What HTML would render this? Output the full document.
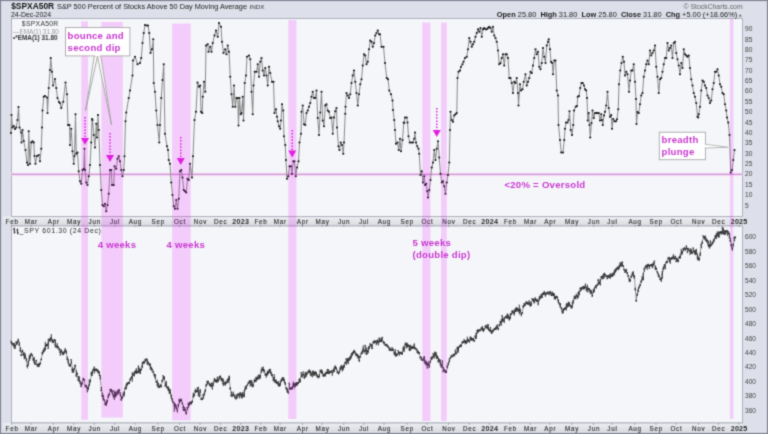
<!DOCTYPE html>
<html><head><meta charset="utf-8"><title>$SPXA50R</title><style>html,body{margin:0;padding:0;background:#dde0ea;overflow:hidden}svg{display:block}</style></head><body>
<svg width="768" height="434" viewBox="0 0 768 434">
<defs><linearGradient id="ax" x1="0" y1="0" x2="0" y2="1"><stop offset="0" stop-color="#eceef2"/><stop offset="1" stop-color="#d9dbe1"/></linearGradient><filter id="bl" x="0" y="0" width="1" height="1" color-interpolation-filters="sRGB"><feConvolveMatrix order="3" kernelMatrix="0.02768 0.11101 0.02768 0.11101 0.44521 0.11101 0.02768 0.11101 0.02768" edgeMode="duplicate" preserveAlpha="false"/></filter></defs><g filter="url(#bl)">
<rect x="0" y="0" width="768" height="434" fill="#dde0ea"/>
<rect x="11.5" y="18.5" width="731.0" height="198.0" fill="#f5f6fa" stroke="#aeb1bd" stroke-width="1"/>
<rect x="3" y="216.5" width="739.5" height="9.5" fill="url(#ax)"/>
<line x1="11.5" y1="216.5" x2="742.5" y2="216.5" stroke="#aeb1bd" stroke-width="1"/>
<line x1="11.5" y1="226" x2="742.5" y2="226" stroke="#aeb1bd" stroke-width="1"/>
<rect x="11.5" y="226" width="731.0" height="197" fill="#f5f6fa" stroke="#aeb1bd" stroke-width="1"/>
<rect x="3" y="423" width="739.5" height="9" fill="url(#ax)" stroke="none"/>
<line x1="11.5" y1="423" x2="742.5" y2="423" stroke="#aeb1bd" stroke-width="1"/>
<rect x="0.55" y="0.55" width="766.9" height="432.9" fill="none" stroke="#838795" stroke-width="1.1"/>
<text x="11.2" y="9.2" font-family="'Liberation Sans', 'DejaVu Sans', sans-serif" font-size="8.8" font-weight="bold" fill="#111" textLength="43" lengthAdjust="spacingAndGlyphs">$SPXA50R</text>
<text x="57" y="9.2" font-family="'Liberation Sans', 'DejaVu Sans', sans-serif" font-size="7.6" fill="#1a1a1a" textLength="190" lengthAdjust="spacingAndGlyphs">S&amp;P 500 Percent of Stocks Above 50 Day Moving Average</text>
<text x="249.5" y="9" font-family="'Liberation Sans', 'DejaVu Sans', sans-serif" font-size="6" fill="#333" textLength="15" lengthAdjust="spacingAndGlyphs">INDX</text>
<text x="11" y="16.6" font-family="'Liberation Sans', 'DejaVu Sans', sans-serif" font-size="7" fill="#1a1a1a" textLength="40" lengthAdjust="spacingAndGlyphs">24-Dec-2024</text>
<text x="683.6" y="8.8" font-family="'Liberation Sans', 'DejaVu Sans', sans-serif" font-size="7" fill="#666" textLength="59" lengthAdjust="spacingAndGlyphs">&#169; StockCharts.com</text>
<text x="737.2" y="16.6" font-family="'Liberation Sans', 'DejaVu Sans', sans-serif" font-size="7.4" fill="#1a1a1a" text-anchor="end" xml:space="preserve"><tspan font-weight="bold">Open</tspan> 25.80  <tspan font-weight="bold">High</tspan> 31.80  <tspan font-weight="bold">Low</tspan> 25.80  <tspan font-weight="bold">Close</tspan> 31.80  <tspan font-weight="bold">Chg</tspan> +5.00 (+18.66%)</text>
<path d="M738.5,16.4L741.9,16.4L740.2,14.3Z" fill="#666"/>
<text x="745" y="207.5" font-family="'Liberation Sans', 'DejaVu Sans', sans-serif" font-size="6.6" fill="#444">5</text>
<text x="745" y="197.2" font-family="'Liberation Sans', 'DejaVu Sans', sans-serif" font-size="6.6" fill="#444">10</text>
<text x="745" y="186.8" font-family="'Liberation Sans', 'DejaVu Sans', sans-serif" font-size="6.6" fill="#444">15</text>
<text x="745" y="176.4" font-family="'Liberation Sans', 'DejaVu Sans', sans-serif" font-size="6.6" fill="#444">20</text>
<text x="745" y="166.0" font-family="'Liberation Sans', 'DejaVu Sans', sans-serif" font-size="6.6" fill="#444">25</text>
<text x="745" y="155.7" font-family="'Liberation Sans', 'DejaVu Sans', sans-serif" font-size="6.6" fill="#444">30</text>
<text x="745" y="145.3" font-family="'Liberation Sans', 'DejaVu Sans', sans-serif" font-size="6.6" fill="#444">35</text>
<text x="745" y="134.9" font-family="'Liberation Sans', 'DejaVu Sans', sans-serif" font-size="6.6" fill="#444">40</text>
<text x="745" y="124.5" font-family="'Liberation Sans', 'DejaVu Sans', sans-serif" font-size="6.6" fill="#444">45</text>
<text x="745" y="114.1" font-family="'Liberation Sans', 'DejaVu Sans', sans-serif" font-size="6.6" fill="#444">50</text>
<text x="745" y="103.8" font-family="'Liberation Sans', 'DejaVu Sans', sans-serif" font-size="6.6" fill="#444">55</text>
<text x="745" y="93.4" font-family="'Liberation Sans', 'DejaVu Sans', sans-serif" font-size="6.6" fill="#444">60</text>
<text x="745" y="83.0" font-family="'Liberation Sans', 'DejaVu Sans', sans-serif" font-size="6.6" fill="#444">65</text>
<text x="745" y="72.7" font-family="'Liberation Sans', 'DejaVu Sans', sans-serif" font-size="6.6" fill="#444">70</text>
<text x="745" y="62.3" font-family="'Liberation Sans', 'DejaVu Sans', sans-serif" font-size="6.6" fill="#444">75</text>
<text x="745" y="51.9" font-family="'Liberation Sans', 'DejaVu Sans', sans-serif" font-size="6.6" fill="#444">80</text>
<text x="745" y="41.5" font-family="'Liberation Sans', 'DejaVu Sans', sans-serif" font-size="6.6" fill="#444">85</text>
<text x="745" y="31.1" font-family="'Liberation Sans', 'DejaVu Sans', sans-serif" font-size="6.6" fill="#444">90</text>
<text x="745" y="412.7" font-family="'Liberation Sans', 'DejaVu Sans', sans-serif" font-size="6.6" fill="#444">360</text>
<text x="745" y="398.2" font-family="'Liberation Sans', 'DejaVu Sans', sans-serif" font-size="6.6" fill="#444">380</text>
<text x="745" y="383.8" font-family="'Liberation Sans', 'DejaVu Sans', sans-serif" font-size="6.6" fill="#444">400</text>
<text x="745" y="369.4" font-family="'Liberation Sans', 'DejaVu Sans', sans-serif" font-size="6.6" fill="#444">420</text>
<text x="745" y="354.9" font-family="'Liberation Sans', 'DejaVu Sans', sans-serif" font-size="6.6" fill="#444">440</text>
<text x="745" y="340.5" font-family="'Liberation Sans', 'DejaVu Sans', sans-serif" font-size="6.6" fill="#444">460</text>
<text x="745" y="326.0" font-family="'Liberation Sans', 'DejaVu Sans', sans-serif" font-size="6.6" fill="#444">480</text>
<text x="745" y="311.6" font-family="'Liberation Sans', 'DejaVu Sans', sans-serif" font-size="6.6" fill="#444">500</text>
<text x="745" y="297.2" font-family="'Liberation Sans', 'DejaVu Sans', sans-serif" font-size="6.6" fill="#444">520</text>
<text x="745" y="282.7" font-family="'Liberation Sans', 'DejaVu Sans', sans-serif" font-size="6.6" fill="#444">540</text>
<text x="745" y="268.3" font-family="'Liberation Sans', 'DejaVu Sans', sans-serif" font-size="6.6" fill="#444">560</text>
<text x="745" y="253.8" font-family="'Liberation Sans', 'DejaVu Sans', sans-serif" font-size="6.6" fill="#444">580</text>
<text x="745" y="239.4" font-family="'Liberation Sans', 'DejaVu Sans', sans-serif" font-size="6.6" fill="#444">600</text>
<text x="12.12" y="224.2" font-family="'Liberation Sans', 'DejaVu Sans', sans-serif" font-size="6.3" letter-spacing="0.75" fill="#2a2a2a" stroke="#333" stroke-width="0.12" text-anchor="middle">Feb</text>
<line x1="11.75" y1="224.9" x2="11.75" y2="226.8" stroke="#888" stroke-width="0.7"/>
<text x="31.38" y="224.2" font-family="'Liberation Sans', 'DejaVu Sans', sans-serif" font-size="6.3" letter-spacing="0.75" fill="#2a2a2a" stroke="#333" stroke-width="0.12" text-anchor="middle">Mar</text>
<line x1="31" y1="224.9" x2="31" y2="226.8" stroke="#888" stroke-width="0.7"/>
<text x="53.77" y="224.2" font-family="'Liberation Sans', 'DejaVu Sans', sans-serif" font-size="6.3" letter-spacing="0.75" fill="#2a2a2a" stroke="#333" stroke-width="0.12" text-anchor="middle">Apr</text>
<line x1="53.4" y1="224.9" x2="53.4" y2="226.8" stroke="#888" stroke-width="0.7"/>
<text x="74.12" y="224.2" font-family="'Liberation Sans', 'DejaVu Sans', sans-serif" font-size="6.3" letter-spacing="0.75" fill="#2a2a2a" stroke="#333" stroke-width="0.12" text-anchor="middle">May</text>
<line x1="73.75" y1="224.9" x2="73.75" y2="226.8" stroke="#888" stroke-width="0.7"/>
<text x="94.78" y="224.2" font-family="'Liberation Sans', 'DejaVu Sans', sans-serif" font-size="6.3" letter-spacing="0.75" fill="#2a2a2a" stroke="#333" stroke-width="0.12" text-anchor="middle">Jun</text>
<line x1="94.4" y1="224.9" x2="94.4" y2="226.8" stroke="#888" stroke-width="0.7"/>
<text x="115.12" y="224.2" font-family="'Liberation Sans', 'DejaVu Sans', sans-serif" font-size="6.3" letter-spacing="0.75" fill="#2a2a2a" stroke="#333" stroke-width="0.12" text-anchor="middle">Jul</text>
<line x1="114.75" y1="224.9" x2="114.75" y2="226.8" stroke="#888" stroke-width="0.7"/>
<text x="135.38" y="224.2" font-family="'Liberation Sans', 'DejaVu Sans', sans-serif" font-size="6.3" letter-spacing="0.75" fill="#2a2a2a" stroke="#333" stroke-width="0.12" text-anchor="middle">Aug</text>
<line x1="135" y1="224.9" x2="135" y2="226.8" stroke="#888" stroke-width="0.7"/>
<text x="158.28" y="224.2" font-family="'Liberation Sans', 'DejaVu Sans', sans-serif" font-size="6.3" letter-spacing="0.75" fill="#2a2a2a" stroke="#333" stroke-width="0.12" text-anchor="middle">Sep</text>
<line x1="157.9" y1="224.9" x2="157.9" y2="226.8" stroke="#888" stroke-width="0.7"/>
<text x="179.97" y="224.2" font-family="'Liberation Sans', 'DejaVu Sans', sans-serif" font-size="6.3" letter-spacing="0.75" fill="#2a2a2a" stroke="#333" stroke-width="0.12" text-anchor="middle">Oct</text>
<line x1="179.6" y1="224.9" x2="179.6" y2="226.8" stroke="#888" stroke-width="0.7"/>
<text x="200.38" y="224.2" font-family="'Liberation Sans', 'DejaVu Sans', sans-serif" font-size="6.3" letter-spacing="0.75" fill="#2a2a2a" stroke="#333" stroke-width="0.12" text-anchor="middle">Nov</text>
<line x1="200" y1="224.9" x2="200" y2="226.8" stroke="#888" stroke-width="0.7"/>
<text x="220.78" y="224.2" font-family="'Liberation Sans', 'DejaVu Sans', sans-serif" font-size="6.3" letter-spacing="0.75" fill="#2a2a2a" stroke="#333" stroke-width="0.12" text-anchor="middle">Dec</text>
<line x1="220.4" y1="224.9" x2="220.4" y2="226.8" stroke="#888" stroke-width="0.7"/>
<text x="240.70" y="224.2" font-family="'Liberation Sans', 'DejaVu Sans', sans-serif" font-size="7.2" font-weight="bold" letter-spacing="0.2" fill="#2a2a2a" text-anchor="middle">2023</text>
<line x1="240.6" y1="224.9" x2="240.6" y2="226.8" stroke="#888" stroke-width="0.7"/>
<text x="260.98" y="224.2" font-family="'Liberation Sans', 'DejaVu Sans', sans-serif" font-size="6.3" letter-spacing="0.75" fill="#2a2a2a" stroke="#333" stroke-width="0.12" text-anchor="middle">Feb</text>
<line x1="260.6" y1="224.9" x2="260.6" y2="226.8" stroke="#888" stroke-width="0.7"/>
<text x="280.38" y="224.2" font-family="'Liberation Sans', 'DejaVu Sans', sans-serif" font-size="6.3" letter-spacing="0.75" fill="#2a2a2a" stroke="#333" stroke-width="0.12" text-anchor="middle">Mar</text>
<line x1="280" y1="224.9" x2="280" y2="226.8" stroke="#888" stroke-width="0.7"/>
<text x="302.88" y="224.2" font-family="'Liberation Sans', 'DejaVu Sans', sans-serif" font-size="6.3" letter-spacing="0.75" fill="#2a2a2a" stroke="#333" stroke-width="0.12" text-anchor="middle">Apr</text>
<line x1="302.5" y1="224.9" x2="302.5" y2="226.8" stroke="#888" stroke-width="0.7"/>
<text x="322.48" y="224.2" font-family="'Liberation Sans', 'DejaVu Sans', sans-serif" font-size="6.3" letter-spacing="0.75" fill="#2a2a2a" stroke="#333" stroke-width="0.12" text-anchor="middle">May</text>
<line x1="322.1" y1="224.9" x2="322.1" y2="226.8" stroke="#888" stroke-width="0.7"/>
<text x="344.12" y="224.2" font-family="'Liberation Sans', 'DejaVu Sans', sans-serif" font-size="6.3" letter-spacing="0.75" fill="#2a2a2a" stroke="#333" stroke-width="0.12" text-anchor="middle">Jun</text>
<line x1="343.75" y1="224.9" x2="343.75" y2="226.8" stroke="#888" stroke-width="0.7"/>
<text x="364.12" y="224.2" font-family="'Liberation Sans', 'DejaVu Sans', sans-serif" font-size="6.3" letter-spacing="0.75" fill="#2a2a2a" stroke="#333" stroke-width="0.12" text-anchor="middle">Jul</text>
<line x1="363.75" y1="224.9" x2="363.75" y2="226.8" stroke="#888" stroke-width="0.7"/>
<text x="384.38" y="224.2" font-family="'Liberation Sans', 'DejaVu Sans', sans-serif" font-size="6.3" letter-spacing="0.75" fill="#2a2a2a" stroke="#333" stroke-width="0.12" text-anchor="middle">Aug</text>
<line x1="384" y1="224.9" x2="384" y2="226.8" stroke="#888" stroke-width="0.7"/>
<text x="407.27" y="224.2" font-family="'Liberation Sans', 'DejaVu Sans', sans-serif" font-size="6.3" letter-spacing="0.75" fill="#2a2a2a" stroke="#333" stroke-width="0.12" text-anchor="middle">Sep</text>
<line x1="406.9" y1="224.9" x2="406.9" y2="226.8" stroke="#888" stroke-width="0.7"/>
<text x="427.48" y="224.2" font-family="'Liberation Sans', 'DejaVu Sans', sans-serif" font-size="6.3" letter-spacing="0.75" fill="#2a2a2a" stroke="#333" stroke-width="0.12" text-anchor="middle">Oct</text>
<line x1="427.1" y1="224.9" x2="427.1" y2="226.8" stroke="#888" stroke-width="0.7"/>
<text x="448.98" y="224.2" font-family="'Liberation Sans', 'DejaVu Sans', sans-serif" font-size="6.3" letter-spacing="0.75" fill="#2a2a2a" stroke="#333" stroke-width="0.12" text-anchor="middle">Nov</text>
<line x1="448.6" y1="224.9" x2="448.6" y2="226.8" stroke="#888" stroke-width="0.7"/>
<text x="469.77" y="224.2" font-family="'Liberation Sans', 'DejaVu Sans', sans-serif" font-size="6.3" letter-spacing="0.75" fill="#2a2a2a" stroke="#333" stroke-width="0.12" text-anchor="middle">Dec</text>
<line x1="469.4" y1="224.9" x2="469.4" y2="226.8" stroke="#888" stroke-width="0.7"/>
<text x="489.70" y="224.2" font-family="'Liberation Sans', 'DejaVu Sans', sans-serif" font-size="7.2" font-weight="bold" letter-spacing="0.2" fill="#2a2a2a" text-anchor="middle">2024</text>
<line x1="489.6" y1="224.9" x2="489.6" y2="226.8" stroke="#888" stroke-width="0.7"/>
<text x="510.48" y="224.2" font-family="'Liberation Sans', 'DejaVu Sans', sans-serif" font-size="6.3" letter-spacing="0.75" fill="#2a2a2a" stroke="#333" stroke-width="0.12" text-anchor="middle">Feb</text>
<line x1="510.1" y1="224.9" x2="510.1" y2="226.8" stroke="#888" stroke-width="0.7"/>
<text x="530.62" y="224.2" font-family="'Liberation Sans', 'DejaVu Sans', sans-serif" font-size="6.3" letter-spacing="0.75" fill="#2a2a2a" stroke="#333" stroke-width="0.12" text-anchor="middle">Mar</text>
<line x1="530.25" y1="224.9" x2="530.25" y2="226.8" stroke="#888" stroke-width="0.7"/>
<text x="550.27" y="224.2" font-family="'Liberation Sans', 'DejaVu Sans', sans-serif" font-size="6.3" letter-spacing="0.75" fill="#2a2a2a" stroke="#333" stroke-width="0.12" text-anchor="middle">Apr</text>
<line x1="549.9" y1="224.9" x2="549.9" y2="226.8" stroke="#888" stroke-width="0.7"/>
<text x="572.12" y="224.2" font-family="'Liberation Sans', 'DejaVu Sans', sans-serif" font-size="6.3" letter-spacing="0.75" fill="#2a2a2a" stroke="#333" stroke-width="0.12" text-anchor="middle">May</text>
<line x1="571.75" y1="224.9" x2="571.75" y2="226.8" stroke="#888" stroke-width="0.7"/>
<text x="593.98" y="224.2" font-family="'Liberation Sans', 'DejaVu Sans', sans-serif" font-size="6.3" letter-spacing="0.75" fill="#2a2a2a" stroke="#333" stroke-width="0.12" text-anchor="middle">Jun</text>
<line x1="593.6" y1="224.9" x2="593.6" y2="226.8" stroke="#888" stroke-width="0.7"/>
<text x="612.48" y="224.2" font-family="'Liberation Sans', 'DejaVu Sans', sans-serif" font-size="6.3" letter-spacing="0.75" fill="#2a2a2a" stroke="#333" stroke-width="0.12" text-anchor="middle">Jul</text>
<line x1="612.1" y1="224.9" x2="612.1" y2="226.8" stroke="#888" stroke-width="0.7"/>
<text x="635.12" y="224.2" font-family="'Liberation Sans', 'DejaVu Sans', sans-serif" font-size="6.3" letter-spacing="0.75" fill="#2a2a2a" stroke="#333" stroke-width="0.12" text-anchor="middle">Aug</text>
<line x1="634.75" y1="224.9" x2="634.75" y2="226.8" stroke="#888" stroke-width="0.7"/>
<text x="656.27" y="224.2" font-family="'Liberation Sans', 'DejaVu Sans', sans-serif" font-size="6.3" letter-spacing="0.75" fill="#2a2a2a" stroke="#333" stroke-width="0.12" text-anchor="middle">Sep</text>
<line x1="655.9" y1="224.9" x2="655.9" y2="226.8" stroke="#888" stroke-width="0.7"/>
<text x="676.48" y="224.2" font-family="'Liberation Sans', 'DejaVu Sans', sans-serif" font-size="6.3" letter-spacing="0.75" fill="#2a2a2a" stroke="#333" stroke-width="0.12" text-anchor="middle">Oct</text>
<line x1="676.1" y1="224.9" x2="676.1" y2="226.8" stroke="#888" stroke-width="0.7"/>
<text x="698.77" y="224.2" font-family="'Liberation Sans', 'DejaVu Sans', sans-serif" font-size="6.3" letter-spacing="0.75" fill="#2a2a2a" stroke="#333" stroke-width="0.12" text-anchor="middle">Nov</text>
<line x1="698.4" y1="224.9" x2="698.4" y2="226.8" stroke="#888" stroke-width="0.7"/>
<text x="718.77" y="224.2" font-family="'Liberation Sans', 'DejaVu Sans', sans-serif" font-size="6.3" letter-spacing="0.75" fill="#2a2a2a" stroke="#333" stroke-width="0.12" text-anchor="middle">Dec</text>
<line x1="718.4" y1="224.9" x2="718.4" y2="226.8" stroke="#888" stroke-width="0.7"/>
<text x="739.10" y="224.2" font-family="'Liberation Sans', 'DejaVu Sans', sans-serif" font-size="7.2" font-weight="bold" letter-spacing="0.2" fill="#2a2a2a" text-anchor="middle">2025</text>
<line x1="739" y1="224.9" x2="739" y2="226.8" stroke="#888" stroke-width="0.7"/>
<text x="12.12" y="431.0" font-family="'Liberation Sans', 'DejaVu Sans', sans-serif" font-size="6.3" letter-spacing="0.75" fill="#2a2a2a" stroke="#333" stroke-width="0.12" text-anchor="middle">Feb</text>
<line x1="11.75" y1="423" x2="11.75" y2="424.8" stroke="#888" stroke-width="0.7"/>
<text x="31.38" y="431.0" font-family="'Liberation Sans', 'DejaVu Sans', sans-serif" font-size="6.3" letter-spacing="0.75" fill="#2a2a2a" stroke="#333" stroke-width="0.12" text-anchor="middle">Mar</text>
<line x1="31" y1="423" x2="31" y2="424.8" stroke="#888" stroke-width="0.7"/>
<text x="53.77" y="431.0" font-family="'Liberation Sans', 'DejaVu Sans', sans-serif" font-size="6.3" letter-spacing="0.75" fill="#2a2a2a" stroke="#333" stroke-width="0.12" text-anchor="middle">Apr</text>
<line x1="53.4" y1="423" x2="53.4" y2="424.8" stroke="#888" stroke-width="0.7"/>
<text x="74.12" y="431.0" font-family="'Liberation Sans', 'DejaVu Sans', sans-serif" font-size="6.3" letter-spacing="0.75" fill="#2a2a2a" stroke="#333" stroke-width="0.12" text-anchor="middle">May</text>
<line x1="73.75" y1="423" x2="73.75" y2="424.8" stroke="#888" stroke-width="0.7"/>
<text x="94.78" y="431.0" font-family="'Liberation Sans', 'DejaVu Sans', sans-serif" font-size="6.3" letter-spacing="0.75" fill="#2a2a2a" stroke="#333" stroke-width="0.12" text-anchor="middle">Jun</text>
<line x1="94.4" y1="423" x2="94.4" y2="424.8" stroke="#888" stroke-width="0.7"/>
<text x="115.12" y="431.0" font-family="'Liberation Sans', 'DejaVu Sans', sans-serif" font-size="6.3" letter-spacing="0.75" fill="#2a2a2a" stroke="#333" stroke-width="0.12" text-anchor="middle">Jul</text>
<line x1="114.75" y1="423" x2="114.75" y2="424.8" stroke="#888" stroke-width="0.7"/>
<text x="135.38" y="431.0" font-family="'Liberation Sans', 'DejaVu Sans', sans-serif" font-size="6.3" letter-spacing="0.75" fill="#2a2a2a" stroke="#333" stroke-width="0.12" text-anchor="middle">Aug</text>
<line x1="135" y1="423" x2="135" y2="424.8" stroke="#888" stroke-width="0.7"/>
<text x="158.28" y="431.0" font-family="'Liberation Sans', 'DejaVu Sans', sans-serif" font-size="6.3" letter-spacing="0.75" fill="#2a2a2a" stroke="#333" stroke-width="0.12" text-anchor="middle">Sep</text>
<line x1="157.9" y1="423" x2="157.9" y2="424.8" stroke="#888" stroke-width="0.7"/>
<text x="179.97" y="431.0" font-family="'Liberation Sans', 'DejaVu Sans', sans-serif" font-size="6.3" letter-spacing="0.75" fill="#2a2a2a" stroke="#333" stroke-width="0.12" text-anchor="middle">Oct</text>
<line x1="179.6" y1="423" x2="179.6" y2="424.8" stroke="#888" stroke-width="0.7"/>
<text x="200.38" y="431.0" font-family="'Liberation Sans', 'DejaVu Sans', sans-serif" font-size="6.3" letter-spacing="0.75" fill="#2a2a2a" stroke="#333" stroke-width="0.12" text-anchor="middle">Nov</text>
<line x1="200" y1="423" x2="200" y2="424.8" stroke="#888" stroke-width="0.7"/>
<text x="220.78" y="431.0" font-family="'Liberation Sans', 'DejaVu Sans', sans-serif" font-size="6.3" letter-spacing="0.75" fill="#2a2a2a" stroke="#333" stroke-width="0.12" text-anchor="middle">Dec</text>
<line x1="220.4" y1="423" x2="220.4" y2="424.8" stroke="#888" stroke-width="0.7"/>
<text x="240.70" y="431.0" font-family="'Liberation Sans', 'DejaVu Sans', sans-serif" font-size="7.2" font-weight="bold" letter-spacing="0.2" fill="#2a2a2a" text-anchor="middle">2023</text>
<line x1="240.6" y1="423" x2="240.6" y2="424.8" stroke="#888" stroke-width="0.7"/>
<text x="260.98" y="431.0" font-family="'Liberation Sans', 'DejaVu Sans', sans-serif" font-size="6.3" letter-spacing="0.75" fill="#2a2a2a" stroke="#333" stroke-width="0.12" text-anchor="middle">Feb</text>
<line x1="260.6" y1="423" x2="260.6" y2="424.8" stroke="#888" stroke-width="0.7"/>
<text x="280.38" y="431.0" font-family="'Liberation Sans', 'DejaVu Sans', sans-serif" font-size="6.3" letter-spacing="0.75" fill="#2a2a2a" stroke="#333" stroke-width="0.12" text-anchor="middle">Mar</text>
<line x1="280" y1="423" x2="280" y2="424.8" stroke="#888" stroke-width="0.7"/>
<text x="302.88" y="431.0" font-family="'Liberation Sans', 'DejaVu Sans', sans-serif" font-size="6.3" letter-spacing="0.75" fill="#2a2a2a" stroke="#333" stroke-width="0.12" text-anchor="middle">Apr</text>
<line x1="302.5" y1="423" x2="302.5" y2="424.8" stroke="#888" stroke-width="0.7"/>
<text x="322.48" y="431.0" font-family="'Liberation Sans', 'DejaVu Sans', sans-serif" font-size="6.3" letter-spacing="0.75" fill="#2a2a2a" stroke="#333" stroke-width="0.12" text-anchor="middle">May</text>
<line x1="322.1" y1="423" x2="322.1" y2="424.8" stroke="#888" stroke-width="0.7"/>
<text x="344.12" y="431.0" font-family="'Liberation Sans', 'DejaVu Sans', sans-serif" font-size="6.3" letter-spacing="0.75" fill="#2a2a2a" stroke="#333" stroke-width="0.12" text-anchor="middle">Jun</text>
<line x1="343.75" y1="423" x2="343.75" y2="424.8" stroke="#888" stroke-width="0.7"/>
<text x="364.12" y="431.0" font-family="'Liberation Sans', 'DejaVu Sans', sans-serif" font-size="6.3" letter-spacing="0.75" fill="#2a2a2a" stroke="#333" stroke-width="0.12" text-anchor="middle">Jul</text>
<line x1="363.75" y1="423" x2="363.75" y2="424.8" stroke="#888" stroke-width="0.7"/>
<text x="384.38" y="431.0" font-family="'Liberation Sans', 'DejaVu Sans', sans-serif" font-size="6.3" letter-spacing="0.75" fill="#2a2a2a" stroke="#333" stroke-width="0.12" text-anchor="middle">Aug</text>
<line x1="384" y1="423" x2="384" y2="424.8" stroke="#888" stroke-width="0.7"/>
<text x="407.27" y="431.0" font-family="'Liberation Sans', 'DejaVu Sans', sans-serif" font-size="6.3" letter-spacing="0.75" fill="#2a2a2a" stroke="#333" stroke-width="0.12" text-anchor="middle">Sep</text>
<line x1="406.9" y1="423" x2="406.9" y2="424.8" stroke="#888" stroke-width="0.7"/>
<text x="427.48" y="431.0" font-family="'Liberation Sans', 'DejaVu Sans', sans-serif" font-size="6.3" letter-spacing="0.75" fill="#2a2a2a" stroke="#333" stroke-width="0.12" text-anchor="middle">Oct</text>
<line x1="427.1" y1="423" x2="427.1" y2="424.8" stroke="#888" stroke-width="0.7"/>
<text x="448.98" y="431.0" font-family="'Liberation Sans', 'DejaVu Sans', sans-serif" font-size="6.3" letter-spacing="0.75" fill="#2a2a2a" stroke="#333" stroke-width="0.12" text-anchor="middle">Nov</text>
<line x1="448.6" y1="423" x2="448.6" y2="424.8" stroke="#888" stroke-width="0.7"/>
<text x="469.77" y="431.0" font-family="'Liberation Sans', 'DejaVu Sans', sans-serif" font-size="6.3" letter-spacing="0.75" fill="#2a2a2a" stroke="#333" stroke-width="0.12" text-anchor="middle">Dec</text>
<line x1="469.4" y1="423" x2="469.4" y2="424.8" stroke="#888" stroke-width="0.7"/>
<text x="489.70" y="431.0" font-family="'Liberation Sans', 'DejaVu Sans', sans-serif" font-size="7.2" font-weight="bold" letter-spacing="0.2" fill="#2a2a2a" text-anchor="middle">2024</text>
<line x1="489.6" y1="423" x2="489.6" y2="424.8" stroke="#888" stroke-width="0.7"/>
<text x="510.48" y="431.0" font-family="'Liberation Sans', 'DejaVu Sans', sans-serif" font-size="6.3" letter-spacing="0.75" fill="#2a2a2a" stroke="#333" stroke-width="0.12" text-anchor="middle">Feb</text>
<line x1="510.1" y1="423" x2="510.1" y2="424.8" stroke="#888" stroke-width="0.7"/>
<text x="530.62" y="431.0" font-family="'Liberation Sans', 'DejaVu Sans', sans-serif" font-size="6.3" letter-spacing="0.75" fill="#2a2a2a" stroke="#333" stroke-width="0.12" text-anchor="middle">Mar</text>
<line x1="530.25" y1="423" x2="530.25" y2="424.8" stroke="#888" stroke-width="0.7"/>
<text x="550.27" y="431.0" font-family="'Liberation Sans', 'DejaVu Sans', sans-serif" font-size="6.3" letter-spacing="0.75" fill="#2a2a2a" stroke="#333" stroke-width="0.12" text-anchor="middle">Apr</text>
<line x1="549.9" y1="423" x2="549.9" y2="424.8" stroke="#888" stroke-width="0.7"/>
<text x="572.12" y="431.0" font-family="'Liberation Sans', 'DejaVu Sans', sans-serif" font-size="6.3" letter-spacing="0.75" fill="#2a2a2a" stroke="#333" stroke-width="0.12" text-anchor="middle">May</text>
<line x1="571.75" y1="423" x2="571.75" y2="424.8" stroke="#888" stroke-width="0.7"/>
<text x="593.98" y="431.0" font-family="'Liberation Sans', 'DejaVu Sans', sans-serif" font-size="6.3" letter-spacing="0.75" fill="#2a2a2a" stroke="#333" stroke-width="0.12" text-anchor="middle">Jun</text>
<line x1="593.6" y1="423" x2="593.6" y2="424.8" stroke="#888" stroke-width="0.7"/>
<text x="612.48" y="431.0" font-family="'Liberation Sans', 'DejaVu Sans', sans-serif" font-size="6.3" letter-spacing="0.75" fill="#2a2a2a" stroke="#333" stroke-width="0.12" text-anchor="middle">Jul</text>
<line x1="612.1" y1="423" x2="612.1" y2="424.8" stroke="#888" stroke-width="0.7"/>
<text x="635.12" y="431.0" font-family="'Liberation Sans', 'DejaVu Sans', sans-serif" font-size="6.3" letter-spacing="0.75" fill="#2a2a2a" stroke="#333" stroke-width="0.12" text-anchor="middle">Aug</text>
<line x1="634.75" y1="423" x2="634.75" y2="424.8" stroke="#888" stroke-width="0.7"/>
<text x="656.27" y="431.0" font-family="'Liberation Sans', 'DejaVu Sans', sans-serif" font-size="6.3" letter-spacing="0.75" fill="#2a2a2a" stroke="#333" stroke-width="0.12" text-anchor="middle">Sep</text>
<line x1="655.9" y1="423" x2="655.9" y2="424.8" stroke="#888" stroke-width="0.7"/>
<text x="676.48" y="431.0" font-family="'Liberation Sans', 'DejaVu Sans', sans-serif" font-size="6.3" letter-spacing="0.75" fill="#2a2a2a" stroke="#333" stroke-width="0.12" text-anchor="middle">Oct</text>
<line x1="676.1" y1="423" x2="676.1" y2="424.8" stroke="#888" stroke-width="0.7"/>
<text x="698.77" y="431.0" font-family="'Liberation Sans', 'DejaVu Sans', sans-serif" font-size="6.3" letter-spacing="0.75" fill="#2a2a2a" stroke="#333" stroke-width="0.12" text-anchor="middle">Nov</text>
<line x1="698.4" y1="423" x2="698.4" y2="424.8" stroke="#888" stroke-width="0.7"/>
<text x="718.77" y="431.0" font-family="'Liberation Sans', 'DejaVu Sans', sans-serif" font-size="6.3" letter-spacing="0.75" fill="#2a2a2a" stroke="#333" stroke-width="0.12" text-anchor="middle">Dec</text>
<line x1="718.4" y1="423" x2="718.4" y2="424.8" stroke="#888" stroke-width="0.7"/>
<text x="739.10" y="431.0" font-family="'Liberation Sans', 'DejaVu Sans', sans-serif" font-size="7.2" font-weight="bold" letter-spacing="0.2" fill="#2a2a2a" text-anchor="middle">2025</text>
<line x1="739" y1="423" x2="739" y2="424.8" stroke="#888" stroke-width="0.7"/>
<line x1="11.5" y1="174.4" x2="742.5" y2="174.4" stroke="#fbe0fb" stroke-width="3.6"/>
<line x1="11.5" y1="174.4" x2="742.5" y2="174.4" stroke="#c898cf" stroke-width="1.1"/>
<polyline points="11.00,133.00 11.50,115.00 12.50,127.50 13.75,126.00 15.00,129.00 16.25,127.50 17.50,120.00 18.50,107.00 19.50,127.50 21.25,132.50 21.50,142.50 22.50,130.00 23.75,141.00 25.50,150.00 27.00,162.50 28.00,165.00 28.75,131.25 30.00,163.75 31.25,142.50 32.50,141.25 33.75,142.50 34.50,156.00 35.50,163.75 37.00,156.00 38.75,155.00 40.00,161.25 41.25,148.75 42.00,127.50 42.50,110.50 43.75,96.75 45.00,96.00 47.00,97.50 47.50,113.00 48.75,88.00 50.00,70.00 50.75,58.00 52.00,71.75 53.00,85.50 55.00,79.00 56.25,88.00 57.50,98.00 59.00,102.00 60.00,103.00 61.25,108.00 63.25,101.75 65.50,82.50 67.00,94.25 68.00,125.00 69.50,125.00 70.00,145.00 71.25,128.75 72.50,151.25 73.75,163.75 74.50,156.00 75.50,114.25 76.25,153.75 77.50,152.50 78.75,171.25 80.00,181.25 81.25,183.75 82.50,170.00 83.75,168.75 84.50,148.75 85.00,170.00 86.25,182.50 87.50,185.00 88.75,176.25 90.00,165.00 91.25,142.50 92.00,119.00 92.50,120.00 93.75,135.00 95.00,147.50 96.25,123.75 97.00,137.50 98.00,115.00 98.75,130.00 100.00,165.00 101.25,190.00 102.50,205.00 103.75,206.25 105.00,203.75 106.25,211.25 107.50,205.00 108.75,193.75 110.00,170.00 111.25,170.00 112.00,185.00 113.75,185.00 114.50,166.25 116.25,168.75 117.50,158.75 118.75,156.25 120.00,161.25 121.25,170.00 122.50,176.25 123.75,170.00 124.50,156.25 125.50,121.25 126.25,112.50 128.75,98.00 130.00,90.50 132.50,75.50 133.00,60.50 135.00,56.75 137.50,64.25 140.00,63.00 141.25,58.00 142.50,43.00 143.75,33.00 145.00,25.00 147.00,25.50 148.00,25.50 149.25,33.00 150.50,53.00 152.00,49.25 153.25,39.25 153.75,83.00 155.00,91.75 156.25,110.50 157.50,125.00 159.25,142.50 160.00,125.00 161.25,98.00 162.50,80.00 163.75,64.25 165.00,133.75 167.00,146.25 168.00,150.00 168.75,160.00 170.00,163.75 171.25,182.50 172.50,195.00 173.75,206.25 175.00,208.75 176.25,200.00 177.50,208.75 178.75,198.75 180.00,171.25 181.25,170.00 182.50,177.50 183.75,190.00 185.00,191.25 186.25,192.50 187.50,178.75 188.75,180.00 190.00,163.75 192.00,177.50 193.00,156.25 194.50,120.00 196.00,111.75 197.50,82.50 199.00,86.75 200.25,85.50 201.00,111.75 202.25,113.00 202.75,96.75 204.00,81.75 205.25,91.75 206.00,45.50 207.75,44.25 208.50,51.75 210.25,46.75 211.50,51.75 212.75,43.00 214.50,35.50 216.00,30.50 217.75,36.75 219.00,23.00 221.00,26.75 222.00,41.75 223.50,53.00 225.25,49.25 226.50,54.25 227.75,45.50 229.00,51.75 230.25,76.75 231.50,94.25 232.75,106.75 234.00,85.50 235.25,106.75 236.50,98.00 237.75,98.00 238.50,125.50 239.50,98.00 240.75,114.25 241.50,113.00 242.75,96.75 243.50,120.50 244.75,83.00 246.00,75.50 247.00,56.75 249.00,55.50 250.25,59.25 251.50,91.75 252.75,114.25 253.50,85.50 254.75,71.75 256.50,71.75 257.75,64.25 259.00,76.75 260.25,61.75 261.50,58.00 262.75,70.50 264.00,75.50 265.25,68.00 266.50,75.50 267.75,85.50 269.00,66.75 270.25,73.00 272.00,81.75 273.50,81.75 274.50,113.00 276.00,109.25 277.00,116.75 277.75,121.25 279.00,126.25 280.25,128.75 281.00,120.50 282.00,104.25 283.25,110.50 284.00,136.25 285.25,145.00 286.00,160.00 287.00,178.75 288.25,176.25 289.50,166.25 291.00,166.25 292.00,173.75 293.25,161.25 294.50,161.25 295.75,176.25 297.00,167.50 298.50,161.25 299.50,142.50 301.00,133.75 301.50,111.75 302.75,105.50 304.00,124.25 305.25,125.00 306.50,113.00 307.75,110.50 309.00,106.75 310.25,103.00 311.50,96.75 312.75,91.75 314.00,98.00 315.25,98.00 316.50,90.50 317.75,118.00 319.00,135.00 320.25,112.50 321.50,91.75 322.75,120.50 324.00,126.25 325.25,105.50 326.50,104.25 327.75,110.50 329.00,111.75 330.25,118.00 331.50,117.50 332.75,133.75 334.00,117.50 335.25,111.25 336.50,108.00 337.00,127.50 338.50,146.25 339.50,150.00 340.75,142.50 342.00,145.00 343.25,153.75 344.00,142.50 345.25,113.75 345.50,106.75 346.50,93.00 347.75,95.50 349.00,98.00 350.25,94.25 351.50,83.00 352.75,75.50 354.00,70.50 355.25,81.75 356.50,93.00 357.75,105.50 359.00,94.25 360.25,84.25 361.50,79.25 362.75,65.50 364.00,54.25 365.25,55.50 366.50,64.25 367.75,61.75 369.00,49.25 370.25,40.50 371.50,41.75 372.75,46.75 374.00,43.00 375.25,35.50 376.50,33.00 377.75,30.50 379.00,34.25 380.00,34.25 381.50,46.75 383.50,46.75 385.00,63.00 386.75,78.00 388.00,79.25 389.25,90.50 391.00,94.25 392.50,100.50 393.00,110.00 394.25,120.00 395.00,130.00 396.00,143.75 397.50,142.50 398.75,150.00 400.00,138.75 401.00,151.25 402.50,140.00 403.75,122.50 404.25,123.00 405.00,117.50 406.75,117.50 407.50,122.50 408.50,136.25 409.75,142.50 411.50,142.50 413.00,142.50 414.25,138.75 415.00,132.50 416.00,142.50 417.25,146.25 418.50,148.75 419.25,153.75 420.50,175.00 421.75,171.25 423.00,182.50 424.25,176.25 425.00,185.00 426.25,183.75 427.25,191.25 428.00,197.50 429.25,190.00 430.50,180.00 431.75,167.50 433.00,162.50 434.25,150.00 435.50,160.00 436.75,148.75 438.00,141.25 439.25,157.50 440.50,173.75 441.75,182.50 443.00,181.25 444.25,186.25 445.50,193.75 446.75,182.50 448.00,175.00 449.25,162.50 450.00,130.00 450.50,111.75 451.75,120.00 453.00,121.75 454.25,115.50 455.50,114.25 456.75,113.00 457.50,78.00 458.50,71.75 460.00,70.50 461.00,66.75 462.50,64.25 463.50,61.75 465.00,58.00 466.75,56.75 468.00,49.25 469.25,38.00 470.50,41.75 471.75,46.75 473.00,44.25 474.25,41.75 475.50,36.75 476.75,33.00 478.00,29.25 479.25,31.75 480.50,28.00 481.75,36.75 483.00,29.25 484.25,28.00 485.50,29.25 486.75,29.25 488.00,28.00 489.25,26.75 490.50,28.00 491.75,31.75 493.00,26.75 494.25,35.50 495.50,38.00 496.75,41.75 498.00,50.50 499.25,64.25 500.50,63.00 501.75,58.00 503.00,54.25 504.25,65.50 505.50,54.25 506.75,54.25 508.00,58.00 509.25,78.00 510.50,78.00 511.75,83.00 513.00,93.00 514.25,81.75 515.50,83.00 516.75,78.00 518.00,93.00 518.50,105.50 520.00,84.25 521.00,90.50 522.50,89.25 523.75,81.75 525.50,74.25 526.75,85.50 528.00,81.75 529.25,78.00 530.50,71.75 531.75,73.00 533.00,65.50 534.25,58.00 535.50,49.25 536.75,54.25 538.00,51.75 539.25,66.75 540.50,69.25 541.75,63.00 543.00,48.00 544.25,56.75 545.50,63.00 546.75,45.50 548.00,41.75 548.75,39.25 550.00,49.25 551.00,61.75 552.25,63.00 553.00,74.25 554.25,60.50 555.50,60.50 556.75,90.50 558.00,95.50 558.50,125.00 560.00,140.00 561.25,152.50 563.00,152.50 564.25,140.00 565.00,128.75 566.00,122.50 567.50,122.50 568.50,120.00 569.50,111.25 570.75,130.00 572.00,135.00 573.25,125.00 574.00,110.50 575.75,106.75 577.00,106.00 577.75,96.75 579.00,96.00 580.25,88.00 581.50,83.00 582.75,83.00 584.00,85.50 585.00,89.25 586.25,90.50 587.00,98.00 587.75,120.50 588.75,113.00 589.50,125.00 590.25,137.50 591.50,123.00 592.50,110.50 593.75,118.00 595.00,113.00 596.25,113.00 597.50,113.00 598.75,113.00 600.00,120.50 601.25,114.25 602.00,120.00 602.75,125.00 604.00,115.50 605.00,111.75 606.25,105.50 607.50,91.75 608.75,108.00 610.00,116.75 611.25,115.00 612.00,128.75 613.25,119.00 614.50,121.25 616.00,121.25 617.00,119.25 618.25,109.25 619.00,84.25 620.25,70.50 621.50,63.00 622.75,56.75 624.00,61.75 625.00,75.50 626.25,71.75 627.50,74.25 629.00,91.75 630.00,80.50 631.25,70.50 632.50,70.50 633.75,64.25 635.00,81.75 636.00,99.00 636.50,124.00 637.50,112.00 638.75,113.00 640.00,104.25 641.25,95.50 642.50,93.00 643.75,76.75 645.00,70.50 646.25,64.25 647.50,60.50 648.75,64.25 650.00,50.50 651.25,55.50 652.50,53.00 653.75,50.50 655.00,45.50 656.25,66.75 657.50,76.75 658.75,93.00 660.00,79.25 661.25,78.00 662.50,71.75 663.75,64.25 665.00,58.00 666.25,58.00 667.50,43.00 668.75,50.50 670.00,48.00 671.25,45.50 672.50,58.00 673.75,43.00 675.00,41.75 676.25,53.00 677.50,59.25 678.75,65.50 680.00,74.25 681.25,63.00 682.50,68.00 683.75,49.25 685.00,54.25 686.25,55.50 687.50,56.75 688.75,55.50 690.00,68.00 691.25,79.25 692.50,85.50 693.75,93.00 695.00,96.75 696.25,103.00 697.50,116.75 698.25,117.50 698.75,114.25 700.00,106.75 701.25,90.50 702.50,80.50 703.75,81.75 705.00,85.50 706.25,88.00 707.50,95.50 708.75,98.00 710.00,103.00 711.25,100.50 712.50,89.25 713.75,83.00 715.00,71.75 716.25,71.75 717.50,69.25 718.75,75.50 720.00,84.25 721.25,86.75 722.50,93.00 723.75,94.25 725.00,104.25 726.25,110.50 727.00,117.50 728.25,122.50 729.50,135.00 730.75,172.50 732.00,170.00 733.25,160.00 734.50,150.00" fill="none" stroke="#8c8c8c" stroke-width="1.05" stroke-linejoin="round"/>
<path d="M9.90,133.00a1.1,1.1 0 1,0 2.2,0a1.1,1.1 0 1,0 -2.2,0M10.40,115.00a1.1,1.1 0 1,0 2.2,0a1.1,1.1 0 1,0 -2.2,0M11.40,127.50a1.1,1.1 0 1,0 2.2,0a1.1,1.1 0 1,0 -2.2,0M12.65,126.00a1.1,1.1 0 1,0 2.2,0a1.1,1.1 0 1,0 -2.2,0M13.90,129.00a1.1,1.1 0 1,0 2.2,0a1.1,1.1 0 1,0 -2.2,0M15.15,127.50a1.1,1.1 0 1,0 2.2,0a1.1,1.1 0 1,0 -2.2,0M16.40,120.00a1.1,1.1 0 1,0 2.2,0a1.1,1.1 0 1,0 -2.2,0M17.40,107.00a1.1,1.1 0 1,0 2.2,0a1.1,1.1 0 1,0 -2.2,0M18.40,127.50a1.1,1.1 0 1,0 2.2,0a1.1,1.1 0 1,0 -2.2,0M20.15,132.50a1.1,1.1 0 1,0 2.2,0a1.1,1.1 0 1,0 -2.2,0M20.40,142.50a1.1,1.1 0 1,0 2.2,0a1.1,1.1 0 1,0 -2.2,0M21.40,130.00a1.1,1.1 0 1,0 2.2,0a1.1,1.1 0 1,0 -2.2,0M22.65,141.00a1.1,1.1 0 1,0 2.2,0a1.1,1.1 0 1,0 -2.2,0M24.40,150.00a1.1,1.1 0 1,0 2.2,0a1.1,1.1 0 1,0 -2.2,0M25.90,162.50a1.1,1.1 0 1,0 2.2,0a1.1,1.1 0 1,0 -2.2,0M26.90,165.00a1.1,1.1 0 1,0 2.2,0a1.1,1.1 0 1,0 -2.2,0M27.65,131.25a1.1,1.1 0 1,0 2.2,0a1.1,1.1 0 1,0 -2.2,0M28.90,163.75a1.1,1.1 0 1,0 2.2,0a1.1,1.1 0 1,0 -2.2,0M30.15,142.50a1.1,1.1 0 1,0 2.2,0a1.1,1.1 0 1,0 -2.2,0M31.40,141.25a1.1,1.1 0 1,0 2.2,0a1.1,1.1 0 1,0 -2.2,0M32.65,142.50a1.1,1.1 0 1,0 2.2,0a1.1,1.1 0 1,0 -2.2,0M33.40,156.00a1.1,1.1 0 1,0 2.2,0a1.1,1.1 0 1,0 -2.2,0M34.40,163.75a1.1,1.1 0 1,0 2.2,0a1.1,1.1 0 1,0 -2.2,0M35.90,156.00a1.1,1.1 0 1,0 2.2,0a1.1,1.1 0 1,0 -2.2,0M37.65,155.00a1.1,1.1 0 1,0 2.2,0a1.1,1.1 0 1,0 -2.2,0M38.90,161.25a1.1,1.1 0 1,0 2.2,0a1.1,1.1 0 1,0 -2.2,0M40.15,148.75a1.1,1.1 0 1,0 2.2,0a1.1,1.1 0 1,0 -2.2,0M40.90,127.50a1.1,1.1 0 1,0 2.2,0a1.1,1.1 0 1,0 -2.2,0M41.40,110.50a1.1,1.1 0 1,0 2.2,0a1.1,1.1 0 1,0 -2.2,0M42.65,96.75a1.1,1.1 0 1,0 2.2,0a1.1,1.1 0 1,0 -2.2,0M43.90,96.00a1.1,1.1 0 1,0 2.2,0a1.1,1.1 0 1,0 -2.2,0M45.90,97.50a1.1,1.1 0 1,0 2.2,0a1.1,1.1 0 1,0 -2.2,0M46.40,113.00a1.1,1.1 0 1,0 2.2,0a1.1,1.1 0 1,0 -2.2,0M47.65,88.00a1.1,1.1 0 1,0 2.2,0a1.1,1.1 0 1,0 -2.2,0M48.90,70.00a1.1,1.1 0 1,0 2.2,0a1.1,1.1 0 1,0 -2.2,0M49.65,58.00a1.1,1.1 0 1,0 2.2,0a1.1,1.1 0 1,0 -2.2,0M50.90,71.75a1.1,1.1 0 1,0 2.2,0a1.1,1.1 0 1,0 -2.2,0M51.90,85.50a1.1,1.1 0 1,0 2.2,0a1.1,1.1 0 1,0 -2.2,0M53.90,79.00a1.1,1.1 0 1,0 2.2,0a1.1,1.1 0 1,0 -2.2,0M55.15,88.00a1.1,1.1 0 1,0 2.2,0a1.1,1.1 0 1,0 -2.2,0M56.40,98.00a1.1,1.1 0 1,0 2.2,0a1.1,1.1 0 1,0 -2.2,0M57.90,102.00a1.1,1.1 0 1,0 2.2,0a1.1,1.1 0 1,0 -2.2,0M58.90,103.00a1.1,1.1 0 1,0 2.2,0a1.1,1.1 0 1,0 -2.2,0M60.15,108.00a1.1,1.1 0 1,0 2.2,0a1.1,1.1 0 1,0 -2.2,0M62.15,101.75a1.1,1.1 0 1,0 2.2,0a1.1,1.1 0 1,0 -2.2,0M64.40,82.50a1.1,1.1 0 1,0 2.2,0a1.1,1.1 0 1,0 -2.2,0M65.90,94.25a1.1,1.1 0 1,0 2.2,0a1.1,1.1 0 1,0 -2.2,0M66.90,125.00a1.1,1.1 0 1,0 2.2,0a1.1,1.1 0 1,0 -2.2,0M68.40,125.00a1.1,1.1 0 1,0 2.2,0a1.1,1.1 0 1,0 -2.2,0M68.90,145.00a1.1,1.1 0 1,0 2.2,0a1.1,1.1 0 1,0 -2.2,0M70.15,128.75a1.1,1.1 0 1,0 2.2,0a1.1,1.1 0 1,0 -2.2,0M71.40,151.25a1.1,1.1 0 1,0 2.2,0a1.1,1.1 0 1,0 -2.2,0M72.65,163.75a1.1,1.1 0 1,0 2.2,0a1.1,1.1 0 1,0 -2.2,0M73.40,156.00a1.1,1.1 0 1,0 2.2,0a1.1,1.1 0 1,0 -2.2,0M74.40,114.25a1.1,1.1 0 1,0 2.2,0a1.1,1.1 0 1,0 -2.2,0M75.15,153.75a1.1,1.1 0 1,0 2.2,0a1.1,1.1 0 1,0 -2.2,0M76.40,152.50a1.1,1.1 0 1,0 2.2,0a1.1,1.1 0 1,0 -2.2,0M77.65,171.25a1.1,1.1 0 1,0 2.2,0a1.1,1.1 0 1,0 -2.2,0M78.90,181.25a1.1,1.1 0 1,0 2.2,0a1.1,1.1 0 1,0 -2.2,0M80.15,183.75a1.1,1.1 0 1,0 2.2,0a1.1,1.1 0 1,0 -2.2,0M81.40,170.00a1.1,1.1 0 1,0 2.2,0a1.1,1.1 0 1,0 -2.2,0M82.65,168.75a1.1,1.1 0 1,0 2.2,0a1.1,1.1 0 1,0 -2.2,0M83.40,148.75a1.1,1.1 0 1,0 2.2,0a1.1,1.1 0 1,0 -2.2,0M83.90,170.00a1.1,1.1 0 1,0 2.2,0a1.1,1.1 0 1,0 -2.2,0M85.15,182.50a1.1,1.1 0 1,0 2.2,0a1.1,1.1 0 1,0 -2.2,0M86.40,185.00a1.1,1.1 0 1,0 2.2,0a1.1,1.1 0 1,0 -2.2,0M87.65,176.25a1.1,1.1 0 1,0 2.2,0a1.1,1.1 0 1,0 -2.2,0M88.90,165.00a1.1,1.1 0 1,0 2.2,0a1.1,1.1 0 1,0 -2.2,0M90.15,142.50a1.1,1.1 0 1,0 2.2,0a1.1,1.1 0 1,0 -2.2,0M90.90,119.00a1.1,1.1 0 1,0 2.2,0a1.1,1.1 0 1,0 -2.2,0M91.40,120.00a1.1,1.1 0 1,0 2.2,0a1.1,1.1 0 1,0 -2.2,0M92.65,135.00a1.1,1.1 0 1,0 2.2,0a1.1,1.1 0 1,0 -2.2,0M93.90,147.50a1.1,1.1 0 1,0 2.2,0a1.1,1.1 0 1,0 -2.2,0M95.15,123.75a1.1,1.1 0 1,0 2.2,0a1.1,1.1 0 1,0 -2.2,0M95.90,137.50a1.1,1.1 0 1,0 2.2,0a1.1,1.1 0 1,0 -2.2,0M96.90,115.00a1.1,1.1 0 1,0 2.2,0a1.1,1.1 0 1,0 -2.2,0M97.65,130.00a1.1,1.1 0 1,0 2.2,0a1.1,1.1 0 1,0 -2.2,0M98.90,165.00a1.1,1.1 0 1,0 2.2,0a1.1,1.1 0 1,0 -2.2,0M100.15,190.00a1.1,1.1 0 1,0 2.2,0a1.1,1.1 0 1,0 -2.2,0M101.40,205.00a1.1,1.1 0 1,0 2.2,0a1.1,1.1 0 1,0 -2.2,0M102.65,206.25a1.1,1.1 0 1,0 2.2,0a1.1,1.1 0 1,0 -2.2,0M103.90,203.75a1.1,1.1 0 1,0 2.2,0a1.1,1.1 0 1,0 -2.2,0M105.15,211.25a1.1,1.1 0 1,0 2.2,0a1.1,1.1 0 1,0 -2.2,0M106.40,205.00a1.1,1.1 0 1,0 2.2,0a1.1,1.1 0 1,0 -2.2,0M107.65,193.75a1.1,1.1 0 1,0 2.2,0a1.1,1.1 0 1,0 -2.2,0M108.90,170.00a1.1,1.1 0 1,0 2.2,0a1.1,1.1 0 1,0 -2.2,0M110.15,170.00a1.1,1.1 0 1,0 2.2,0a1.1,1.1 0 1,0 -2.2,0M110.90,185.00a1.1,1.1 0 1,0 2.2,0a1.1,1.1 0 1,0 -2.2,0M112.65,185.00a1.1,1.1 0 1,0 2.2,0a1.1,1.1 0 1,0 -2.2,0M113.40,166.25a1.1,1.1 0 1,0 2.2,0a1.1,1.1 0 1,0 -2.2,0M115.15,168.75a1.1,1.1 0 1,0 2.2,0a1.1,1.1 0 1,0 -2.2,0M116.40,158.75a1.1,1.1 0 1,0 2.2,0a1.1,1.1 0 1,0 -2.2,0M117.65,156.25a1.1,1.1 0 1,0 2.2,0a1.1,1.1 0 1,0 -2.2,0M118.90,161.25a1.1,1.1 0 1,0 2.2,0a1.1,1.1 0 1,0 -2.2,0M120.15,170.00a1.1,1.1 0 1,0 2.2,0a1.1,1.1 0 1,0 -2.2,0M121.40,176.25a1.1,1.1 0 1,0 2.2,0a1.1,1.1 0 1,0 -2.2,0M122.65,170.00a1.1,1.1 0 1,0 2.2,0a1.1,1.1 0 1,0 -2.2,0M123.40,156.25a1.1,1.1 0 1,0 2.2,0a1.1,1.1 0 1,0 -2.2,0M124.40,121.25a1.1,1.1 0 1,0 2.2,0a1.1,1.1 0 1,0 -2.2,0M125.15,112.50a1.1,1.1 0 1,0 2.2,0a1.1,1.1 0 1,0 -2.2,0M127.65,98.00a1.1,1.1 0 1,0 2.2,0a1.1,1.1 0 1,0 -2.2,0M128.90,90.50a1.1,1.1 0 1,0 2.2,0a1.1,1.1 0 1,0 -2.2,0M131.40,75.50a1.1,1.1 0 1,0 2.2,0a1.1,1.1 0 1,0 -2.2,0M131.90,60.50a1.1,1.1 0 1,0 2.2,0a1.1,1.1 0 1,0 -2.2,0M133.90,56.75a1.1,1.1 0 1,0 2.2,0a1.1,1.1 0 1,0 -2.2,0M136.40,64.25a1.1,1.1 0 1,0 2.2,0a1.1,1.1 0 1,0 -2.2,0M138.90,63.00a1.1,1.1 0 1,0 2.2,0a1.1,1.1 0 1,0 -2.2,0M140.15,58.00a1.1,1.1 0 1,0 2.2,0a1.1,1.1 0 1,0 -2.2,0M141.40,43.00a1.1,1.1 0 1,0 2.2,0a1.1,1.1 0 1,0 -2.2,0M142.65,33.00a1.1,1.1 0 1,0 2.2,0a1.1,1.1 0 1,0 -2.2,0M143.90,25.00a1.1,1.1 0 1,0 2.2,0a1.1,1.1 0 1,0 -2.2,0M145.90,25.50a1.1,1.1 0 1,0 2.2,0a1.1,1.1 0 1,0 -2.2,0M146.90,25.50a1.1,1.1 0 1,0 2.2,0a1.1,1.1 0 1,0 -2.2,0M148.15,33.00a1.1,1.1 0 1,0 2.2,0a1.1,1.1 0 1,0 -2.2,0M149.40,53.00a1.1,1.1 0 1,0 2.2,0a1.1,1.1 0 1,0 -2.2,0M150.90,49.25a1.1,1.1 0 1,0 2.2,0a1.1,1.1 0 1,0 -2.2,0M152.15,39.25a1.1,1.1 0 1,0 2.2,0a1.1,1.1 0 1,0 -2.2,0M152.65,83.00a1.1,1.1 0 1,0 2.2,0a1.1,1.1 0 1,0 -2.2,0M153.90,91.75a1.1,1.1 0 1,0 2.2,0a1.1,1.1 0 1,0 -2.2,0M155.15,110.50a1.1,1.1 0 1,0 2.2,0a1.1,1.1 0 1,0 -2.2,0M156.40,125.00a1.1,1.1 0 1,0 2.2,0a1.1,1.1 0 1,0 -2.2,0M158.15,142.50a1.1,1.1 0 1,0 2.2,0a1.1,1.1 0 1,0 -2.2,0M158.90,125.00a1.1,1.1 0 1,0 2.2,0a1.1,1.1 0 1,0 -2.2,0M160.15,98.00a1.1,1.1 0 1,0 2.2,0a1.1,1.1 0 1,0 -2.2,0M161.40,80.00a1.1,1.1 0 1,0 2.2,0a1.1,1.1 0 1,0 -2.2,0M162.65,64.25a1.1,1.1 0 1,0 2.2,0a1.1,1.1 0 1,0 -2.2,0M163.90,133.75a1.1,1.1 0 1,0 2.2,0a1.1,1.1 0 1,0 -2.2,0M165.90,146.25a1.1,1.1 0 1,0 2.2,0a1.1,1.1 0 1,0 -2.2,0M166.90,150.00a1.1,1.1 0 1,0 2.2,0a1.1,1.1 0 1,0 -2.2,0M167.65,160.00a1.1,1.1 0 1,0 2.2,0a1.1,1.1 0 1,0 -2.2,0M168.90,163.75a1.1,1.1 0 1,0 2.2,0a1.1,1.1 0 1,0 -2.2,0M170.15,182.50a1.1,1.1 0 1,0 2.2,0a1.1,1.1 0 1,0 -2.2,0M171.40,195.00a1.1,1.1 0 1,0 2.2,0a1.1,1.1 0 1,0 -2.2,0M172.65,206.25a1.1,1.1 0 1,0 2.2,0a1.1,1.1 0 1,0 -2.2,0M173.90,208.75a1.1,1.1 0 1,0 2.2,0a1.1,1.1 0 1,0 -2.2,0M175.15,200.00a1.1,1.1 0 1,0 2.2,0a1.1,1.1 0 1,0 -2.2,0M176.40,208.75a1.1,1.1 0 1,0 2.2,0a1.1,1.1 0 1,0 -2.2,0M177.65,198.75a1.1,1.1 0 1,0 2.2,0a1.1,1.1 0 1,0 -2.2,0M178.90,171.25a1.1,1.1 0 1,0 2.2,0a1.1,1.1 0 1,0 -2.2,0M180.15,170.00a1.1,1.1 0 1,0 2.2,0a1.1,1.1 0 1,0 -2.2,0M181.40,177.50a1.1,1.1 0 1,0 2.2,0a1.1,1.1 0 1,0 -2.2,0M182.65,190.00a1.1,1.1 0 1,0 2.2,0a1.1,1.1 0 1,0 -2.2,0M183.90,191.25a1.1,1.1 0 1,0 2.2,0a1.1,1.1 0 1,0 -2.2,0M185.15,192.50a1.1,1.1 0 1,0 2.2,0a1.1,1.1 0 1,0 -2.2,0M186.40,178.75a1.1,1.1 0 1,0 2.2,0a1.1,1.1 0 1,0 -2.2,0M187.65,180.00a1.1,1.1 0 1,0 2.2,0a1.1,1.1 0 1,0 -2.2,0M188.90,163.75a1.1,1.1 0 1,0 2.2,0a1.1,1.1 0 1,0 -2.2,0M190.90,177.50a1.1,1.1 0 1,0 2.2,0a1.1,1.1 0 1,0 -2.2,0M191.90,156.25a1.1,1.1 0 1,0 2.2,0a1.1,1.1 0 1,0 -2.2,0M193.40,120.00a1.1,1.1 0 1,0 2.2,0a1.1,1.1 0 1,0 -2.2,0M194.90,111.75a1.1,1.1 0 1,0 2.2,0a1.1,1.1 0 1,0 -2.2,0M196.40,82.50a1.1,1.1 0 1,0 2.2,0a1.1,1.1 0 1,0 -2.2,0M197.90,86.75a1.1,1.1 0 1,0 2.2,0a1.1,1.1 0 1,0 -2.2,0M199.15,85.50a1.1,1.1 0 1,0 2.2,0a1.1,1.1 0 1,0 -2.2,0M199.90,111.75a1.1,1.1 0 1,0 2.2,0a1.1,1.1 0 1,0 -2.2,0M201.15,113.00a1.1,1.1 0 1,0 2.2,0a1.1,1.1 0 1,0 -2.2,0M201.65,96.75a1.1,1.1 0 1,0 2.2,0a1.1,1.1 0 1,0 -2.2,0M202.90,81.75a1.1,1.1 0 1,0 2.2,0a1.1,1.1 0 1,0 -2.2,0M204.15,91.75a1.1,1.1 0 1,0 2.2,0a1.1,1.1 0 1,0 -2.2,0M204.90,45.50a1.1,1.1 0 1,0 2.2,0a1.1,1.1 0 1,0 -2.2,0M206.65,44.25a1.1,1.1 0 1,0 2.2,0a1.1,1.1 0 1,0 -2.2,0M207.40,51.75a1.1,1.1 0 1,0 2.2,0a1.1,1.1 0 1,0 -2.2,0M209.15,46.75a1.1,1.1 0 1,0 2.2,0a1.1,1.1 0 1,0 -2.2,0M210.40,51.75a1.1,1.1 0 1,0 2.2,0a1.1,1.1 0 1,0 -2.2,0M211.65,43.00a1.1,1.1 0 1,0 2.2,0a1.1,1.1 0 1,0 -2.2,0M213.40,35.50a1.1,1.1 0 1,0 2.2,0a1.1,1.1 0 1,0 -2.2,0M214.90,30.50a1.1,1.1 0 1,0 2.2,0a1.1,1.1 0 1,0 -2.2,0M216.65,36.75a1.1,1.1 0 1,0 2.2,0a1.1,1.1 0 1,0 -2.2,0M217.90,23.00a1.1,1.1 0 1,0 2.2,0a1.1,1.1 0 1,0 -2.2,0M219.90,26.75a1.1,1.1 0 1,0 2.2,0a1.1,1.1 0 1,0 -2.2,0M220.90,41.75a1.1,1.1 0 1,0 2.2,0a1.1,1.1 0 1,0 -2.2,0M222.40,53.00a1.1,1.1 0 1,0 2.2,0a1.1,1.1 0 1,0 -2.2,0M224.15,49.25a1.1,1.1 0 1,0 2.2,0a1.1,1.1 0 1,0 -2.2,0M225.40,54.25a1.1,1.1 0 1,0 2.2,0a1.1,1.1 0 1,0 -2.2,0M226.65,45.50a1.1,1.1 0 1,0 2.2,0a1.1,1.1 0 1,0 -2.2,0M227.90,51.75a1.1,1.1 0 1,0 2.2,0a1.1,1.1 0 1,0 -2.2,0M229.15,76.75a1.1,1.1 0 1,0 2.2,0a1.1,1.1 0 1,0 -2.2,0M230.40,94.25a1.1,1.1 0 1,0 2.2,0a1.1,1.1 0 1,0 -2.2,0M231.65,106.75a1.1,1.1 0 1,0 2.2,0a1.1,1.1 0 1,0 -2.2,0M232.90,85.50a1.1,1.1 0 1,0 2.2,0a1.1,1.1 0 1,0 -2.2,0M234.15,106.75a1.1,1.1 0 1,0 2.2,0a1.1,1.1 0 1,0 -2.2,0M235.40,98.00a1.1,1.1 0 1,0 2.2,0a1.1,1.1 0 1,0 -2.2,0M236.65,98.00a1.1,1.1 0 1,0 2.2,0a1.1,1.1 0 1,0 -2.2,0M237.40,125.50a1.1,1.1 0 1,0 2.2,0a1.1,1.1 0 1,0 -2.2,0M238.40,98.00a1.1,1.1 0 1,0 2.2,0a1.1,1.1 0 1,0 -2.2,0M239.65,114.25a1.1,1.1 0 1,0 2.2,0a1.1,1.1 0 1,0 -2.2,0M240.40,113.00a1.1,1.1 0 1,0 2.2,0a1.1,1.1 0 1,0 -2.2,0M241.65,96.75a1.1,1.1 0 1,0 2.2,0a1.1,1.1 0 1,0 -2.2,0M242.40,120.50a1.1,1.1 0 1,0 2.2,0a1.1,1.1 0 1,0 -2.2,0M243.65,83.00a1.1,1.1 0 1,0 2.2,0a1.1,1.1 0 1,0 -2.2,0M244.90,75.50a1.1,1.1 0 1,0 2.2,0a1.1,1.1 0 1,0 -2.2,0M245.90,56.75a1.1,1.1 0 1,0 2.2,0a1.1,1.1 0 1,0 -2.2,0M247.90,55.50a1.1,1.1 0 1,0 2.2,0a1.1,1.1 0 1,0 -2.2,0M249.15,59.25a1.1,1.1 0 1,0 2.2,0a1.1,1.1 0 1,0 -2.2,0M250.40,91.75a1.1,1.1 0 1,0 2.2,0a1.1,1.1 0 1,0 -2.2,0M251.65,114.25a1.1,1.1 0 1,0 2.2,0a1.1,1.1 0 1,0 -2.2,0M252.40,85.50a1.1,1.1 0 1,0 2.2,0a1.1,1.1 0 1,0 -2.2,0M253.65,71.75a1.1,1.1 0 1,0 2.2,0a1.1,1.1 0 1,0 -2.2,0M255.40,71.75a1.1,1.1 0 1,0 2.2,0a1.1,1.1 0 1,0 -2.2,0M256.65,64.25a1.1,1.1 0 1,0 2.2,0a1.1,1.1 0 1,0 -2.2,0M257.90,76.75a1.1,1.1 0 1,0 2.2,0a1.1,1.1 0 1,0 -2.2,0M259.15,61.75a1.1,1.1 0 1,0 2.2,0a1.1,1.1 0 1,0 -2.2,0M260.40,58.00a1.1,1.1 0 1,0 2.2,0a1.1,1.1 0 1,0 -2.2,0M261.65,70.50a1.1,1.1 0 1,0 2.2,0a1.1,1.1 0 1,0 -2.2,0M262.90,75.50a1.1,1.1 0 1,0 2.2,0a1.1,1.1 0 1,0 -2.2,0M264.15,68.00a1.1,1.1 0 1,0 2.2,0a1.1,1.1 0 1,0 -2.2,0M265.40,75.50a1.1,1.1 0 1,0 2.2,0a1.1,1.1 0 1,0 -2.2,0M266.65,85.50a1.1,1.1 0 1,0 2.2,0a1.1,1.1 0 1,0 -2.2,0M267.90,66.75a1.1,1.1 0 1,0 2.2,0a1.1,1.1 0 1,0 -2.2,0M269.15,73.00a1.1,1.1 0 1,0 2.2,0a1.1,1.1 0 1,0 -2.2,0M270.90,81.75a1.1,1.1 0 1,0 2.2,0a1.1,1.1 0 1,0 -2.2,0M272.40,81.75a1.1,1.1 0 1,0 2.2,0a1.1,1.1 0 1,0 -2.2,0M273.40,113.00a1.1,1.1 0 1,0 2.2,0a1.1,1.1 0 1,0 -2.2,0M274.90,109.25a1.1,1.1 0 1,0 2.2,0a1.1,1.1 0 1,0 -2.2,0M275.90,116.75a1.1,1.1 0 1,0 2.2,0a1.1,1.1 0 1,0 -2.2,0M276.65,121.25a1.1,1.1 0 1,0 2.2,0a1.1,1.1 0 1,0 -2.2,0M277.90,126.25a1.1,1.1 0 1,0 2.2,0a1.1,1.1 0 1,0 -2.2,0M279.15,128.75a1.1,1.1 0 1,0 2.2,0a1.1,1.1 0 1,0 -2.2,0M279.90,120.50a1.1,1.1 0 1,0 2.2,0a1.1,1.1 0 1,0 -2.2,0M280.90,104.25a1.1,1.1 0 1,0 2.2,0a1.1,1.1 0 1,0 -2.2,0M282.15,110.50a1.1,1.1 0 1,0 2.2,0a1.1,1.1 0 1,0 -2.2,0M282.90,136.25a1.1,1.1 0 1,0 2.2,0a1.1,1.1 0 1,0 -2.2,0M284.15,145.00a1.1,1.1 0 1,0 2.2,0a1.1,1.1 0 1,0 -2.2,0M284.90,160.00a1.1,1.1 0 1,0 2.2,0a1.1,1.1 0 1,0 -2.2,0M285.90,178.75a1.1,1.1 0 1,0 2.2,0a1.1,1.1 0 1,0 -2.2,0M287.15,176.25a1.1,1.1 0 1,0 2.2,0a1.1,1.1 0 1,0 -2.2,0M288.40,166.25a1.1,1.1 0 1,0 2.2,0a1.1,1.1 0 1,0 -2.2,0M289.90,166.25a1.1,1.1 0 1,0 2.2,0a1.1,1.1 0 1,0 -2.2,0M290.90,173.75a1.1,1.1 0 1,0 2.2,0a1.1,1.1 0 1,0 -2.2,0M292.15,161.25a1.1,1.1 0 1,0 2.2,0a1.1,1.1 0 1,0 -2.2,0M293.40,161.25a1.1,1.1 0 1,0 2.2,0a1.1,1.1 0 1,0 -2.2,0M294.65,176.25a1.1,1.1 0 1,0 2.2,0a1.1,1.1 0 1,0 -2.2,0M295.90,167.50a1.1,1.1 0 1,0 2.2,0a1.1,1.1 0 1,0 -2.2,0M297.40,161.25a1.1,1.1 0 1,0 2.2,0a1.1,1.1 0 1,0 -2.2,0M298.40,142.50a1.1,1.1 0 1,0 2.2,0a1.1,1.1 0 1,0 -2.2,0M299.90,133.75a1.1,1.1 0 1,0 2.2,0a1.1,1.1 0 1,0 -2.2,0M300.40,111.75a1.1,1.1 0 1,0 2.2,0a1.1,1.1 0 1,0 -2.2,0M301.65,105.50a1.1,1.1 0 1,0 2.2,0a1.1,1.1 0 1,0 -2.2,0M302.90,124.25a1.1,1.1 0 1,0 2.2,0a1.1,1.1 0 1,0 -2.2,0M304.15,125.00a1.1,1.1 0 1,0 2.2,0a1.1,1.1 0 1,0 -2.2,0M305.40,113.00a1.1,1.1 0 1,0 2.2,0a1.1,1.1 0 1,0 -2.2,0M306.65,110.50a1.1,1.1 0 1,0 2.2,0a1.1,1.1 0 1,0 -2.2,0M307.90,106.75a1.1,1.1 0 1,0 2.2,0a1.1,1.1 0 1,0 -2.2,0M309.15,103.00a1.1,1.1 0 1,0 2.2,0a1.1,1.1 0 1,0 -2.2,0M310.40,96.75a1.1,1.1 0 1,0 2.2,0a1.1,1.1 0 1,0 -2.2,0M311.65,91.75a1.1,1.1 0 1,0 2.2,0a1.1,1.1 0 1,0 -2.2,0M312.90,98.00a1.1,1.1 0 1,0 2.2,0a1.1,1.1 0 1,0 -2.2,0M314.15,98.00a1.1,1.1 0 1,0 2.2,0a1.1,1.1 0 1,0 -2.2,0M315.40,90.50a1.1,1.1 0 1,0 2.2,0a1.1,1.1 0 1,0 -2.2,0M316.65,118.00a1.1,1.1 0 1,0 2.2,0a1.1,1.1 0 1,0 -2.2,0M317.90,135.00a1.1,1.1 0 1,0 2.2,0a1.1,1.1 0 1,0 -2.2,0M319.15,112.50a1.1,1.1 0 1,0 2.2,0a1.1,1.1 0 1,0 -2.2,0M320.40,91.75a1.1,1.1 0 1,0 2.2,0a1.1,1.1 0 1,0 -2.2,0M321.65,120.50a1.1,1.1 0 1,0 2.2,0a1.1,1.1 0 1,0 -2.2,0M322.90,126.25a1.1,1.1 0 1,0 2.2,0a1.1,1.1 0 1,0 -2.2,0M324.15,105.50a1.1,1.1 0 1,0 2.2,0a1.1,1.1 0 1,0 -2.2,0M325.40,104.25a1.1,1.1 0 1,0 2.2,0a1.1,1.1 0 1,0 -2.2,0M326.65,110.50a1.1,1.1 0 1,0 2.2,0a1.1,1.1 0 1,0 -2.2,0M327.90,111.75a1.1,1.1 0 1,0 2.2,0a1.1,1.1 0 1,0 -2.2,0M329.15,118.00a1.1,1.1 0 1,0 2.2,0a1.1,1.1 0 1,0 -2.2,0M330.40,117.50a1.1,1.1 0 1,0 2.2,0a1.1,1.1 0 1,0 -2.2,0M331.65,133.75a1.1,1.1 0 1,0 2.2,0a1.1,1.1 0 1,0 -2.2,0M332.90,117.50a1.1,1.1 0 1,0 2.2,0a1.1,1.1 0 1,0 -2.2,0M334.15,111.25a1.1,1.1 0 1,0 2.2,0a1.1,1.1 0 1,0 -2.2,0M335.40,108.00a1.1,1.1 0 1,0 2.2,0a1.1,1.1 0 1,0 -2.2,0M335.90,127.50a1.1,1.1 0 1,0 2.2,0a1.1,1.1 0 1,0 -2.2,0M337.40,146.25a1.1,1.1 0 1,0 2.2,0a1.1,1.1 0 1,0 -2.2,0M338.40,150.00a1.1,1.1 0 1,0 2.2,0a1.1,1.1 0 1,0 -2.2,0M339.65,142.50a1.1,1.1 0 1,0 2.2,0a1.1,1.1 0 1,0 -2.2,0M340.90,145.00a1.1,1.1 0 1,0 2.2,0a1.1,1.1 0 1,0 -2.2,0M342.15,153.75a1.1,1.1 0 1,0 2.2,0a1.1,1.1 0 1,0 -2.2,0M342.90,142.50a1.1,1.1 0 1,0 2.2,0a1.1,1.1 0 1,0 -2.2,0M344.15,113.75a1.1,1.1 0 1,0 2.2,0a1.1,1.1 0 1,0 -2.2,0M344.40,106.75a1.1,1.1 0 1,0 2.2,0a1.1,1.1 0 1,0 -2.2,0M345.40,93.00a1.1,1.1 0 1,0 2.2,0a1.1,1.1 0 1,0 -2.2,0M346.65,95.50a1.1,1.1 0 1,0 2.2,0a1.1,1.1 0 1,0 -2.2,0M347.90,98.00a1.1,1.1 0 1,0 2.2,0a1.1,1.1 0 1,0 -2.2,0M349.15,94.25a1.1,1.1 0 1,0 2.2,0a1.1,1.1 0 1,0 -2.2,0M350.40,83.00a1.1,1.1 0 1,0 2.2,0a1.1,1.1 0 1,0 -2.2,0M351.65,75.50a1.1,1.1 0 1,0 2.2,0a1.1,1.1 0 1,0 -2.2,0M352.90,70.50a1.1,1.1 0 1,0 2.2,0a1.1,1.1 0 1,0 -2.2,0M354.15,81.75a1.1,1.1 0 1,0 2.2,0a1.1,1.1 0 1,0 -2.2,0M355.40,93.00a1.1,1.1 0 1,0 2.2,0a1.1,1.1 0 1,0 -2.2,0M356.65,105.50a1.1,1.1 0 1,0 2.2,0a1.1,1.1 0 1,0 -2.2,0M357.90,94.25a1.1,1.1 0 1,0 2.2,0a1.1,1.1 0 1,0 -2.2,0M359.15,84.25a1.1,1.1 0 1,0 2.2,0a1.1,1.1 0 1,0 -2.2,0M360.40,79.25a1.1,1.1 0 1,0 2.2,0a1.1,1.1 0 1,0 -2.2,0M361.65,65.50a1.1,1.1 0 1,0 2.2,0a1.1,1.1 0 1,0 -2.2,0M362.90,54.25a1.1,1.1 0 1,0 2.2,0a1.1,1.1 0 1,0 -2.2,0M364.15,55.50a1.1,1.1 0 1,0 2.2,0a1.1,1.1 0 1,0 -2.2,0M365.40,64.25a1.1,1.1 0 1,0 2.2,0a1.1,1.1 0 1,0 -2.2,0M366.65,61.75a1.1,1.1 0 1,0 2.2,0a1.1,1.1 0 1,0 -2.2,0M367.90,49.25a1.1,1.1 0 1,0 2.2,0a1.1,1.1 0 1,0 -2.2,0M369.15,40.50a1.1,1.1 0 1,0 2.2,0a1.1,1.1 0 1,0 -2.2,0M370.40,41.75a1.1,1.1 0 1,0 2.2,0a1.1,1.1 0 1,0 -2.2,0M371.65,46.75a1.1,1.1 0 1,0 2.2,0a1.1,1.1 0 1,0 -2.2,0M372.90,43.00a1.1,1.1 0 1,0 2.2,0a1.1,1.1 0 1,0 -2.2,0M374.15,35.50a1.1,1.1 0 1,0 2.2,0a1.1,1.1 0 1,0 -2.2,0M375.40,33.00a1.1,1.1 0 1,0 2.2,0a1.1,1.1 0 1,0 -2.2,0M376.65,30.50a1.1,1.1 0 1,0 2.2,0a1.1,1.1 0 1,0 -2.2,0M377.90,34.25a1.1,1.1 0 1,0 2.2,0a1.1,1.1 0 1,0 -2.2,0M378.90,34.25a1.1,1.1 0 1,0 2.2,0a1.1,1.1 0 1,0 -2.2,0M380.40,46.75a1.1,1.1 0 1,0 2.2,0a1.1,1.1 0 1,0 -2.2,0M382.40,46.75a1.1,1.1 0 1,0 2.2,0a1.1,1.1 0 1,0 -2.2,0M383.90,63.00a1.1,1.1 0 1,0 2.2,0a1.1,1.1 0 1,0 -2.2,0M385.65,78.00a1.1,1.1 0 1,0 2.2,0a1.1,1.1 0 1,0 -2.2,0M386.90,79.25a1.1,1.1 0 1,0 2.2,0a1.1,1.1 0 1,0 -2.2,0M388.15,90.50a1.1,1.1 0 1,0 2.2,0a1.1,1.1 0 1,0 -2.2,0M389.90,94.25a1.1,1.1 0 1,0 2.2,0a1.1,1.1 0 1,0 -2.2,0M391.40,100.50a1.1,1.1 0 1,0 2.2,0a1.1,1.1 0 1,0 -2.2,0M391.90,110.00a1.1,1.1 0 1,0 2.2,0a1.1,1.1 0 1,0 -2.2,0M393.15,120.00a1.1,1.1 0 1,0 2.2,0a1.1,1.1 0 1,0 -2.2,0M393.90,130.00a1.1,1.1 0 1,0 2.2,0a1.1,1.1 0 1,0 -2.2,0M394.90,143.75a1.1,1.1 0 1,0 2.2,0a1.1,1.1 0 1,0 -2.2,0M396.40,142.50a1.1,1.1 0 1,0 2.2,0a1.1,1.1 0 1,0 -2.2,0M397.65,150.00a1.1,1.1 0 1,0 2.2,0a1.1,1.1 0 1,0 -2.2,0M398.90,138.75a1.1,1.1 0 1,0 2.2,0a1.1,1.1 0 1,0 -2.2,0M399.90,151.25a1.1,1.1 0 1,0 2.2,0a1.1,1.1 0 1,0 -2.2,0M401.40,140.00a1.1,1.1 0 1,0 2.2,0a1.1,1.1 0 1,0 -2.2,0M402.65,122.50a1.1,1.1 0 1,0 2.2,0a1.1,1.1 0 1,0 -2.2,0M403.15,123.00a1.1,1.1 0 1,0 2.2,0a1.1,1.1 0 1,0 -2.2,0M403.90,117.50a1.1,1.1 0 1,0 2.2,0a1.1,1.1 0 1,0 -2.2,0M405.65,117.50a1.1,1.1 0 1,0 2.2,0a1.1,1.1 0 1,0 -2.2,0M406.40,122.50a1.1,1.1 0 1,0 2.2,0a1.1,1.1 0 1,0 -2.2,0M407.40,136.25a1.1,1.1 0 1,0 2.2,0a1.1,1.1 0 1,0 -2.2,0M408.65,142.50a1.1,1.1 0 1,0 2.2,0a1.1,1.1 0 1,0 -2.2,0M410.40,142.50a1.1,1.1 0 1,0 2.2,0a1.1,1.1 0 1,0 -2.2,0M411.90,142.50a1.1,1.1 0 1,0 2.2,0a1.1,1.1 0 1,0 -2.2,0M413.15,138.75a1.1,1.1 0 1,0 2.2,0a1.1,1.1 0 1,0 -2.2,0M413.90,132.50a1.1,1.1 0 1,0 2.2,0a1.1,1.1 0 1,0 -2.2,0M414.90,142.50a1.1,1.1 0 1,0 2.2,0a1.1,1.1 0 1,0 -2.2,0M416.15,146.25a1.1,1.1 0 1,0 2.2,0a1.1,1.1 0 1,0 -2.2,0M417.40,148.75a1.1,1.1 0 1,0 2.2,0a1.1,1.1 0 1,0 -2.2,0M418.15,153.75a1.1,1.1 0 1,0 2.2,0a1.1,1.1 0 1,0 -2.2,0M419.40,175.00a1.1,1.1 0 1,0 2.2,0a1.1,1.1 0 1,0 -2.2,0M420.65,171.25a1.1,1.1 0 1,0 2.2,0a1.1,1.1 0 1,0 -2.2,0M421.90,182.50a1.1,1.1 0 1,0 2.2,0a1.1,1.1 0 1,0 -2.2,0M423.15,176.25a1.1,1.1 0 1,0 2.2,0a1.1,1.1 0 1,0 -2.2,0M423.90,185.00a1.1,1.1 0 1,0 2.2,0a1.1,1.1 0 1,0 -2.2,0M425.15,183.75a1.1,1.1 0 1,0 2.2,0a1.1,1.1 0 1,0 -2.2,0M426.15,191.25a1.1,1.1 0 1,0 2.2,0a1.1,1.1 0 1,0 -2.2,0M426.90,197.50a1.1,1.1 0 1,0 2.2,0a1.1,1.1 0 1,0 -2.2,0M428.15,190.00a1.1,1.1 0 1,0 2.2,0a1.1,1.1 0 1,0 -2.2,0M429.40,180.00a1.1,1.1 0 1,0 2.2,0a1.1,1.1 0 1,0 -2.2,0M430.65,167.50a1.1,1.1 0 1,0 2.2,0a1.1,1.1 0 1,0 -2.2,0M431.90,162.50a1.1,1.1 0 1,0 2.2,0a1.1,1.1 0 1,0 -2.2,0M433.15,150.00a1.1,1.1 0 1,0 2.2,0a1.1,1.1 0 1,0 -2.2,0M434.40,160.00a1.1,1.1 0 1,0 2.2,0a1.1,1.1 0 1,0 -2.2,0M435.65,148.75a1.1,1.1 0 1,0 2.2,0a1.1,1.1 0 1,0 -2.2,0M436.90,141.25a1.1,1.1 0 1,0 2.2,0a1.1,1.1 0 1,0 -2.2,0M438.15,157.50a1.1,1.1 0 1,0 2.2,0a1.1,1.1 0 1,0 -2.2,0M439.40,173.75a1.1,1.1 0 1,0 2.2,0a1.1,1.1 0 1,0 -2.2,0M440.65,182.50a1.1,1.1 0 1,0 2.2,0a1.1,1.1 0 1,0 -2.2,0M441.90,181.25a1.1,1.1 0 1,0 2.2,0a1.1,1.1 0 1,0 -2.2,0M443.15,186.25a1.1,1.1 0 1,0 2.2,0a1.1,1.1 0 1,0 -2.2,0M444.40,193.75a1.1,1.1 0 1,0 2.2,0a1.1,1.1 0 1,0 -2.2,0M445.65,182.50a1.1,1.1 0 1,0 2.2,0a1.1,1.1 0 1,0 -2.2,0M446.90,175.00a1.1,1.1 0 1,0 2.2,0a1.1,1.1 0 1,0 -2.2,0M448.15,162.50a1.1,1.1 0 1,0 2.2,0a1.1,1.1 0 1,0 -2.2,0M448.90,130.00a1.1,1.1 0 1,0 2.2,0a1.1,1.1 0 1,0 -2.2,0M449.40,111.75a1.1,1.1 0 1,0 2.2,0a1.1,1.1 0 1,0 -2.2,0M450.65,120.00a1.1,1.1 0 1,0 2.2,0a1.1,1.1 0 1,0 -2.2,0M451.90,121.75a1.1,1.1 0 1,0 2.2,0a1.1,1.1 0 1,0 -2.2,0M453.15,115.50a1.1,1.1 0 1,0 2.2,0a1.1,1.1 0 1,0 -2.2,0M454.40,114.25a1.1,1.1 0 1,0 2.2,0a1.1,1.1 0 1,0 -2.2,0M455.65,113.00a1.1,1.1 0 1,0 2.2,0a1.1,1.1 0 1,0 -2.2,0M456.40,78.00a1.1,1.1 0 1,0 2.2,0a1.1,1.1 0 1,0 -2.2,0M457.40,71.75a1.1,1.1 0 1,0 2.2,0a1.1,1.1 0 1,0 -2.2,0M458.90,70.50a1.1,1.1 0 1,0 2.2,0a1.1,1.1 0 1,0 -2.2,0M459.90,66.75a1.1,1.1 0 1,0 2.2,0a1.1,1.1 0 1,0 -2.2,0M461.40,64.25a1.1,1.1 0 1,0 2.2,0a1.1,1.1 0 1,0 -2.2,0M462.40,61.75a1.1,1.1 0 1,0 2.2,0a1.1,1.1 0 1,0 -2.2,0M463.90,58.00a1.1,1.1 0 1,0 2.2,0a1.1,1.1 0 1,0 -2.2,0M465.65,56.75a1.1,1.1 0 1,0 2.2,0a1.1,1.1 0 1,0 -2.2,0M466.90,49.25a1.1,1.1 0 1,0 2.2,0a1.1,1.1 0 1,0 -2.2,0M468.15,38.00a1.1,1.1 0 1,0 2.2,0a1.1,1.1 0 1,0 -2.2,0M469.40,41.75a1.1,1.1 0 1,0 2.2,0a1.1,1.1 0 1,0 -2.2,0M470.65,46.75a1.1,1.1 0 1,0 2.2,0a1.1,1.1 0 1,0 -2.2,0M471.90,44.25a1.1,1.1 0 1,0 2.2,0a1.1,1.1 0 1,0 -2.2,0M473.15,41.75a1.1,1.1 0 1,0 2.2,0a1.1,1.1 0 1,0 -2.2,0M474.40,36.75a1.1,1.1 0 1,0 2.2,0a1.1,1.1 0 1,0 -2.2,0M475.65,33.00a1.1,1.1 0 1,0 2.2,0a1.1,1.1 0 1,0 -2.2,0M476.90,29.25a1.1,1.1 0 1,0 2.2,0a1.1,1.1 0 1,0 -2.2,0M478.15,31.75a1.1,1.1 0 1,0 2.2,0a1.1,1.1 0 1,0 -2.2,0M479.40,28.00a1.1,1.1 0 1,0 2.2,0a1.1,1.1 0 1,0 -2.2,0M480.65,36.75a1.1,1.1 0 1,0 2.2,0a1.1,1.1 0 1,0 -2.2,0M481.90,29.25a1.1,1.1 0 1,0 2.2,0a1.1,1.1 0 1,0 -2.2,0M483.15,28.00a1.1,1.1 0 1,0 2.2,0a1.1,1.1 0 1,0 -2.2,0M484.40,29.25a1.1,1.1 0 1,0 2.2,0a1.1,1.1 0 1,0 -2.2,0M485.65,29.25a1.1,1.1 0 1,0 2.2,0a1.1,1.1 0 1,0 -2.2,0M486.90,28.00a1.1,1.1 0 1,0 2.2,0a1.1,1.1 0 1,0 -2.2,0M488.15,26.75a1.1,1.1 0 1,0 2.2,0a1.1,1.1 0 1,0 -2.2,0M489.40,28.00a1.1,1.1 0 1,0 2.2,0a1.1,1.1 0 1,0 -2.2,0M490.65,31.75a1.1,1.1 0 1,0 2.2,0a1.1,1.1 0 1,0 -2.2,0M491.90,26.75a1.1,1.1 0 1,0 2.2,0a1.1,1.1 0 1,0 -2.2,0M493.15,35.50a1.1,1.1 0 1,0 2.2,0a1.1,1.1 0 1,0 -2.2,0M494.40,38.00a1.1,1.1 0 1,0 2.2,0a1.1,1.1 0 1,0 -2.2,0M495.65,41.75a1.1,1.1 0 1,0 2.2,0a1.1,1.1 0 1,0 -2.2,0M496.90,50.50a1.1,1.1 0 1,0 2.2,0a1.1,1.1 0 1,0 -2.2,0M498.15,64.25a1.1,1.1 0 1,0 2.2,0a1.1,1.1 0 1,0 -2.2,0M499.40,63.00a1.1,1.1 0 1,0 2.2,0a1.1,1.1 0 1,0 -2.2,0M500.65,58.00a1.1,1.1 0 1,0 2.2,0a1.1,1.1 0 1,0 -2.2,0M501.90,54.25a1.1,1.1 0 1,0 2.2,0a1.1,1.1 0 1,0 -2.2,0M503.15,65.50a1.1,1.1 0 1,0 2.2,0a1.1,1.1 0 1,0 -2.2,0M504.40,54.25a1.1,1.1 0 1,0 2.2,0a1.1,1.1 0 1,0 -2.2,0M505.65,54.25a1.1,1.1 0 1,0 2.2,0a1.1,1.1 0 1,0 -2.2,0M506.90,58.00a1.1,1.1 0 1,0 2.2,0a1.1,1.1 0 1,0 -2.2,0M508.15,78.00a1.1,1.1 0 1,0 2.2,0a1.1,1.1 0 1,0 -2.2,0M509.40,78.00a1.1,1.1 0 1,0 2.2,0a1.1,1.1 0 1,0 -2.2,0M510.65,83.00a1.1,1.1 0 1,0 2.2,0a1.1,1.1 0 1,0 -2.2,0M511.90,93.00a1.1,1.1 0 1,0 2.2,0a1.1,1.1 0 1,0 -2.2,0M513.15,81.75a1.1,1.1 0 1,0 2.2,0a1.1,1.1 0 1,0 -2.2,0M514.40,83.00a1.1,1.1 0 1,0 2.2,0a1.1,1.1 0 1,0 -2.2,0M515.65,78.00a1.1,1.1 0 1,0 2.2,0a1.1,1.1 0 1,0 -2.2,0M516.90,93.00a1.1,1.1 0 1,0 2.2,0a1.1,1.1 0 1,0 -2.2,0M517.40,105.50a1.1,1.1 0 1,0 2.2,0a1.1,1.1 0 1,0 -2.2,0M518.90,84.25a1.1,1.1 0 1,0 2.2,0a1.1,1.1 0 1,0 -2.2,0M519.90,90.50a1.1,1.1 0 1,0 2.2,0a1.1,1.1 0 1,0 -2.2,0M521.40,89.25a1.1,1.1 0 1,0 2.2,0a1.1,1.1 0 1,0 -2.2,0M522.65,81.75a1.1,1.1 0 1,0 2.2,0a1.1,1.1 0 1,0 -2.2,0M524.40,74.25a1.1,1.1 0 1,0 2.2,0a1.1,1.1 0 1,0 -2.2,0M525.65,85.50a1.1,1.1 0 1,0 2.2,0a1.1,1.1 0 1,0 -2.2,0M526.90,81.75a1.1,1.1 0 1,0 2.2,0a1.1,1.1 0 1,0 -2.2,0M528.15,78.00a1.1,1.1 0 1,0 2.2,0a1.1,1.1 0 1,0 -2.2,0M529.40,71.75a1.1,1.1 0 1,0 2.2,0a1.1,1.1 0 1,0 -2.2,0M530.65,73.00a1.1,1.1 0 1,0 2.2,0a1.1,1.1 0 1,0 -2.2,0M531.90,65.50a1.1,1.1 0 1,0 2.2,0a1.1,1.1 0 1,0 -2.2,0M533.15,58.00a1.1,1.1 0 1,0 2.2,0a1.1,1.1 0 1,0 -2.2,0M534.40,49.25a1.1,1.1 0 1,0 2.2,0a1.1,1.1 0 1,0 -2.2,0M535.65,54.25a1.1,1.1 0 1,0 2.2,0a1.1,1.1 0 1,0 -2.2,0M536.90,51.75a1.1,1.1 0 1,0 2.2,0a1.1,1.1 0 1,0 -2.2,0M538.15,66.75a1.1,1.1 0 1,0 2.2,0a1.1,1.1 0 1,0 -2.2,0M539.40,69.25a1.1,1.1 0 1,0 2.2,0a1.1,1.1 0 1,0 -2.2,0M540.65,63.00a1.1,1.1 0 1,0 2.2,0a1.1,1.1 0 1,0 -2.2,0M541.90,48.00a1.1,1.1 0 1,0 2.2,0a1.1,1.1 0 1,0 -2.2,0M543.15,56.75a1.1,1.1 0 1,0 2.2,0a1.1,1.1 0 1,0 -2.2,0M544.40,63.00a1.1,1.1 0 1,0 2.2,0a1.1,1.1 0 1,0 -2.2,0M545.65,45.50a1.1,1.1 0 1,0 2.2,0a1.1,1.1 0 1,0 -2.2,0M546.90,41.75a1.1,1.1 0 1,0 2.2,0a1.1,1.1 0 1,0 -2.2,0M547.65,39.25a1.1,1.1 0 1,0 2.2,0a1.1,1.1 0 1,0 -2.2,0M548.90,49.25a1.1,1.1 0 1,0 2.2,0a1.1,1.1 0 1,0 -2.2,0M549.90,61.75a1.1,1.1 0 1,0 2.2,0a1.1,1.1 0 1,0 -2.2,0M551.15,63.00a1.1,1.1 0 1,0 2.2,0a1.1,1.1 0 1,0 -2.2,0M551.90,74.25a1.1,1.1 0 1,0 2.2,0a1.1,1.1 0 1,0 -2.2,0M553.15,60.50a1.1,1.1 0 1,0 2.2,0a1.1,1.1 0 1,0 -2.2,0M554.40,60.50a1.1,1.1 0 1,0 2.2,0a1.1,1.1 0 1,0 -2.2,0M555.65,90.50a1.1,1.1 0 1,0 2.2,0a1.1,1.1 0 1,0 -2.2,0M556.90,95.50a1.1,1.1 0 1,0 2.2,0a1.1,1.1 0 1,0 -2.2,0M557.40,125.00a1.1,1.1 0 1,0 2.2,0a1.1,1.1 0 1,0 -2.2,0M558.90,140.00a1.1,1.1 0 1,0 2.2,0a1.1,1.1 0 1,0 -2.2,0M560.15,152.50a1.1,1.1 0 1,0 2.2,0a1.1,1.1 0 1,0 -2.2,0M561.90,152.50a1.1,1.1 0 1,0 2.2,0a1.1,1.1 0 1,0 -2.2,0M563.15,140.00a1.1,1.1 0 1,0 2.2,0a1.1,1.1 0 1,0 -2.2,0M563.90,128.75a1.1,1.1 0 1,0 2.2,0a1.1,1.1 0 1,0 -2.2,0M564.90,122.50a1.1,1.1 0 1,0 2.2,0a1.1,1.1 0 1,0 -2.2,0M566.40,122.50a1.1,1.1 0 1,0 2.2,0a1.1,1.1 0 1,0 -2.2,0M567.40,120.00a1.1,1.1 0 1,0 2.2,0a1.1,1.1 0 1,0 -2.2,0M568.40,111.25a1.1,1.1 0 1,0 2.2,0a1.1,1.1 0 1,0 -2.2,0M569.65,130.00a1.1,1.1 0 1,0 2.2,0a1.1,1.1 0 1,0 -2.2,0M570.90,135.00a1.1,1.1 0 1,0 2.2,0a1.1,1.1 0 1,0 -2.2,0M572.15,125.00a1.1,1.1 0 1,0 2.2,0a1.1,1.1 0 1,0 -2.2,0M572.90,110.50a1.1,1.1 0 1,0 2.2,0a1.1,1.1 0 1,0 -2.2,0M574.65,106.75a1.1,1.1 0 1,0 2.2,0a1.1,1.1 0 1,0 -2.2,0M575.90,106.00a1.1,1.1 0 1,0 2.2,0a1.1,1.1 0 1,0 -2.2,0M576.65,96.75a1.1,1.1 0 1,0 2.2,0a1.1,1.1 0 1,0 -2.2,0M577.90,96.00a1.1,1.1 0 1,0 2.2,0a1.1,1.1 0 1,0 -2.2,0M579.15,88.00a1.1,1.1 0 1,0 2.2,0a1.1,1.1 0 1,0 -2.2,0M580.40,83.00a1.1,1.1 0 1,0 2.2,0a1.1,1.1 0 1,0 -2.2,0M581.65,83.00a1.1,1.1 0 1,0 2.2,0a1.1,1.1 0 1,0 -2.2,0M582.90,85.50a1.1,1.1 0 1,0 2.2,0a1.1,1.1 0 1,0 -2.2,0M583.90,89.25a1.1,1.1 0 1,0 2.2,0a1.1,1.1 0 1,0 -2.2,0M585.15,90.50a1.1,1.1 0 1,0 2.2,0a1.1,1.1 0 1,0 -2.2,0M585.90,98.00a1.1,1.1 0 1,0 2.2,0a1.1,1.1 0 1,0 -2.2,0M586.65,120.50a1.1,1.1 0 1,0 2.2,0a1.1,1.1 0 1,0 -2.2,0M587.65,113.00a1.1,1.1 0 1,0 2.2,0a1.1,1.1 0 1,0 -2.2,0M588.40,125.00a1.1,1.1 0 1,0 2.2,0a1.1,1.1 0 1,0 -2.2,0M589.15,137.50a1.1,1.1 0 1,0 2.2,0a1.1,1.1 0 1,0 -2.2,0M590.40,123.00a1.1,1.1 0 1,0 2.2,0a1.1,1.1 0 1,0 -2.2,0M591.40,110.50a1.1,1.1 0 1,0 2.2,0a1.1,1.1 0 1,0 -2.2,0M592.65,118.00a1.1,1.1 0 1,0 2.2,0a1.1,1.1 0 1,0 -2.2,0M593.90,113.00a1.1,1.1 0 1,0 2.2,0a1.1,1.1 0 1,0 -2.2,0M595.15,113.00a1.1,1.1 0 1,0 2.2,0a1.1,1.1 0 1,0 -2.2,0M596.40,113.00a1.1,1.1 0 1,0 2.2,0a1.1,1.1 0 1,0 -2.2,0M597.65,113.00a1.1,1.1 0 1,0 2.2,0a1.1,1.1 0 1,0 -2.2,0M598.90,120.50a1.1,1.1 0 1,0 2.2,0a1.1,1.1 0 1,0 -2.2,0M600.15,114.25a1.1,1.1 0 1,0 2.2,0a1.1,1.1 0 1,0 -2.2,0M600.90,120.00a1.1,1.1 0 1,0 2.2,0a1.1,1.1 0 1,0 -2.2,0M601.65,125.00a1.1,1.1 0 1,0 2.2,0a1.1,1.1 0 1,0 -2.2,0M602.90,115.50a1.1,1.1 0 1,0 2.2,0a1.1,1.1 0 1,0 -2.2,0M603.90,111.75a1.1,1.1 0 1,0 2.2,0a1.1,1.1 0 1,0 -2.2,0M605.15,105.50a1.1,1.1 0 1,0 2.2,0a1.1,1.1 0 1,0 -2.2,0M606.40,91.75a1.1,1.1 0 1,0 2.2,0a1.1,1.1 0 1,0 -2.2,0M607.65,108.00a1.1,1.1 0 1,0 2.2,0a1.1,1.1 0 1,0 -2.2,0M608.90,116.75a1.1,1.1 0 1,0 2.2,0a1.1,1.1 0 1,0 -2.2,0M610.15,115.00a1.1,1.1 0 1,0 2.2,0a1.1,1.1 0 1,0 -2.2,0M610.90,128.75a1.1,1.1 0 1,0 2.2,0a1.1,1.1 0 1,0 -2.2,0M612.15,119.00a1.1,1.1 0 1,0 2.2,0a1.1,1.1 0 1,0 -2.2,0M613.40,121.25a1.1,1.1 0 1,0 2.2,0a1.1,1.1 0 1,0 -2.2,0M614.90,121.25a1.1,1.1 0 1,0 2.2,0a1.1,1.1 0 1,0 -2.2,0M615.90,119.25a1.1,1.1 0 1,0 2.2,0a1.1,1.1 0 1,0 -2.2,0M617.15,109.25a1.1,1.1 0 1,0 2.2,0a1.1,1.1 0 1,0 -2.2,0M617.90,84.25a1.1,1.1 0 1,0 2.2,0a1.1,1.1 0 1,0 -2.2,0M619.15,70.50a1.1,1.1 0 1,0 2.2,0a1.1,1.1 0 1,0 -2.2,0M620.40,63.00a1.1,1.1 0 1,0 2.2,0a1.1,1.1 0 1,0 -2.2,0M621.65,56.75a1.1,1.1 0 1,0 2.2,0a1.1,1.1 0 1,0 -2.2,0M622.90,61.75a1.1,1.1 0 1,0 2.2,0a1.1,1.1 0 1,0 -2.2,0M623.90,75.50a1.1,1.1 0 1,0 2.2,0a1.1,1.1 0 1,0 -2.2,0M625.15,71.75a1.1,1.1 0 1,0 2.2,0a1.1,1.1 0 1,0 -2.2,0M626.40,74.25a1.1,1.1 0 1,0 2.2,0a1.1,1.1 0 1,0 -2.2,0M627.90,91.75a1.1,1.1 0 1,0 2.2,0a1.1,1.1 0 1,0 -2.2,0M628.90,80.50a1.1,1.1 0 1,0 2.2,0a1.1,1.1 0 1,0 -2.2,0M630.15,70.50a1.1,1.1 0 1,0 2.2,0a1.1,1.1 0 1,0 -2.2,0M631.40,70.50a1.1,1.1 0 1,0 2.2,0a1.1,1.1 0 1,0 -2.2,0M632.65,64.25a1.1,1.1 0 1,0 2.2,0a1.1,1.1 0 1,0 -2.2,0M633.90,81.75a1.1,1.1 0 1,0 2.2,0a1.1,1.1 0 1,0 -2.2,0M634.90,99.00a1.1,1.1 0 1,0 2.2,0a1.1,1.1 0 1,0 -2.2,0M635.40,124.00a1.1,1.1 0 1,0 2.2,0a1.1,1.1 0 1,0 -2.2,0M636.40,112.00a1.1,1.1 0 1,0 2.2,0a1.1,1.1 0 1,0 -2.2,0M637.65,113.00a1.1,1.1 0 1,0 2.2,0a1.1,1.1 0 1,0 -2.2,0M638.90,104.25a1.1,1.1 0 1,0 2.2,0a1.1,1.1 0 1,0 -2.2,0M640.15,95.50a1.1,1.1 0 1,0 2.2,0a1.1,1.1 0 1,0 -2.2,0M641.40,93.00a1.1,1.1 0 1,0 2.2,0a1.1,1.1 0 1,0 -2.2,0M642.65,76.75a1.1,1.1 0 1,0 2.2,0a1.1,1.1 0 1,0 -2.2,0M643.90,70.50a1.1,1.1 0 1,0 2.2,0a1.1,1.1 0 1,0 -2.2,0M645.15,64.25a1.1,1.1 0 1,0 2.2,0a1.1,1.1 0 1,0 -2.2,0M646.40,60.50a1.1,1.1 0 1,0 2.2,0a1.1,1.1 0 1,0 -2.2,0M647.65,64.25a1.1,1.1 0 1,0 2.2,0a1.1,1.1 0 1,0 -2.2,0M648.90,50.50a1.1,1.1 0 1,0 2.2,0a1.1,1.1 0 1,0 -2.2,0M650.15,55.50a1.1,1.1 0 1,0 2.2,0a1.1,1.1 0 1,0 -2.2,0M651.40,53.00a1.1,1.1 0 1,0 2.2,0a1.1,1.1 0 1,0 -2.2,0M652.65,50.50a1.1,1.1 0 1,0 2.2,0a1.1,1.1 0 1,0 -2.2,0M653.90,45.50a1.1,1.1 0 1,0 2.2,0a1.1,1.1 0 1,0 -2.2,0M655.15,66.75a1.1,1.1 0 1,0 2.2,0a1.1,1.1 0 1,0 -2.2,0M656.40,76.75a1.1,1.1 0 1,0 2.2,0a1.1,1.1 0 1,0 -2.2,0M657.65,93.00a1.1,1.1 0 1,0 2.2,0a1.1,1.1 0 1,0 -2.2,0M658.90,79.25a1.1,1.1 0 1,0 2.2,0a1.1,1.1 0 1,0 -2.2,0M660.15,78.00a1.1,1.1 0 1,0 2.2,0a1.1,1.1 0 1,0 -2.2,0M661.40,71.75a1.1,1.1 0 1,0 2.2,0a1.1,1.1 0 1,0 -2.2,0M662.65,64.25a1.1,1.1 0 1,0 2.2,0a1.1,1.1 0 1,0 -2.2,0M663.90,58.00a1.1,1.1 0 1,0 2.2,0a1.1,1.1 0 1,0 -2.2,0M665.15,58.00a1.1,1.1 0 1,0 2.2,0a1.1,1.1 0 1,0 -2.2,0M666.40,43.00a1.1,1.1 0 1,0 2.2,0a1.1,1.1 0 1,0 -2.2,0M667.65,50.50a1.1,1.1 0 1,0 2.2,0a1.1,1.1 0 1,0 -2.2,0M668.90,48.00a1.1,1.1 0 1,0 2.2,0a1.1,1.1 0 1,0 -2.2,0M670.15,45.50a1.1,1.1 0 1,0 2.2,0a1.1,1.1 0 1,0 -2.2,0M671.40,58.00a1.1,1.1 0 1,0 2.2,0a1.1,1.1 0 1,0 -2.2,0M672.65,43.00a1.1,1.1 0 1,0 2.2,0a1.1,1.1 0 1,0 -2.2,0M673.90,41.75a1.1,1.1 0 1,0 2.2,0a1.1,1.1 0 1,0 -2.2,0M675.15,53.00a1.1,1.1 0 1,0 2.2,0a1.1,1.1 0 1,0 -2.2,0M676.40,59.25a1.1,1.1 0 1,0 2.2,0a1.1,1.1 0 1,0 -2.2,0M677.65,65.50a1.1,1.1 0 1,0 2.2,0a1.1,1.1 0 1,0 -2.2,0M678.90,74.25a1.1,1.1 0 1,0 2.2,0a1.1,1.1 0 1,0 -2.2,0M680.15,63.00a1.1,1.1 0 1,0 2.2,0a1.1,1.1 0 1,0 -2.2,0M681.40,68.00a1.1,1.1 0 1,0 2.2,0a1.1,1.1 0 1,0 -2.2,0M682.65,49.25a1.1,1.1 0 1,0 2.2,0a1.1,1.1 0 1,0 -2.2,0M683.90,54.25a1.1,1.1 0 1,0 2.2,0a1.1,1.1 0 1,0 -2.2,0M685.15,55.50a1.1,1.1 0 1,0 2.2,0a1.1,1.1 0 1,0 -2.2,0M686.40,56.75a1.1,1.1 0 1,0 2.2,0a1.1,1.1 0 1,0 -2.2,0M687.65,55.50a1.1,1.1 0 1,0 2.2,0a1.1,1.1 0 1,0 -2.2,0M688.90,68.00a1.1,1.1 0 1,0 2.2,0a1.1,1.1 0 1,0 -2.2,0M690.15,79.25a1.1,1.1 0 1,0 2.2,0a1.1,1.1 0 1,0 -2.2,0M691.40,85.50a1.1,1.1 0 1,0 2.2,0a1.1,1.1 0 1,0 -2.2,0M692.65,93.00a1.1,1.1 0 1,0 2.2,0a1.1,1.1 0 1,0 -2.2,0M693.90,96.75a1.1,1.1 0 1,0 2.2,0a1.1,1.1 0 1,0 -2.2,0M695.15,103.00a1.1,1.1 0 1,0 2.2,0a1.1,1.1 0 1,0 -2.2,0M696.40,116.75a1.1,1.1 0 1,0 2.2,0a1.1,1.1 0 1,0 -2.2,0M697.15,117.50a1.1,1.1 0 1,0 2.2,0a1.1,1.1 0 1,0 -2.2,0M697.65,114.25a1.1,1.1 0 1,0 2.2,0a1.1,1.1 0 1,0 -2.2,0M698.90,106.75a1.1,1.1 0 1,0 2.2,0a1.1,1.1 0 1,0 -2.2,0M700.15,90.50a1.1,1.1 0 1,0 2.2,0a1.1,1.1 0 1,0 -2.2,0M701.40,80.50a1.1,1.1 0 1,0 2.2,0a1.1,1.1 0 1,0 -2.2,0M702.65,81.75a1.1,1.1 0 1,0 2.2,0a1.1,1.1 0 1,0 -2.2,0M703.90,85.50a1.1,1.1 0 1,0 2.2,0a1.1,1.1 0 1,0 -2.2,0M705.15,88.00a1.1,1.1 0 1,0 2.2,0a1.1,1.1 0 1,0 -2.2,0M706.40,95.50a1.1,1.1 0 1,0 2.2,0a1.1,1.1 0 1,0 -2.2,0M707.65,98.00a1.1,1.1 0 1,0 2.2,0a1.1,1.1 0 1,0 -2.2,0M708.90,103.00a1.1,1.1 0 1,0 2.2,0a1.1,1.1 0 1,0 -2.2,0M710.15,100.50a1.1,1.1 0 1,0 2.2,0a1.1,1.1 0 1,0 -2.2,0M711.40,89.25a1.1,1.1 0 1,0 2.2,0a1.1,1.1 0 1,0 -2.2,0M712.65,83.00a1.1,1.1 0 1,0 2.2,0a1.1,1.1 0 1,0 -2.2,0M713.90,71.75a1.1,1.1 0 1,0 2.2,0a1.1,1.1 0 1,0 -2.2,0M715.15,71.75a1.1,1.1 0 1,0 2.2,0a1.1,1.1 0 1,0 -2.2,0M716.40,69.25a1.1,1.1 0 1,0 2.2,0a1.1,1.1 0 1,0 -2.2,0M717.65,75.50a1.1,1.1 0 1,0 2.2,0a1.1,1.1 0 1,0 -2.2,0M718.90,84.25a1.1,1.1 0 1,0 2.2,0a1.1,1.1 0 1,0 -2.2,0M720.15,86.75a1.1,1.1 0 1,0 2.2,0a1.1,1.1 0 1,0 -2.2,0M721.40,93.00a1.1,1.1 0 1,0 2.2,0a1.1,1.1 0 1,0 -2.2,0M722.65,94.25a1.1,1.1 0 1,0 2.2,0a1.1,1.1 0 1,0 -2.2,0M723.90,104.25a1.1,1.1 0 1,0 2.2,0a1.1,1.1 0 1,0 -2.2,0M725.15,110.50a1.1,1.1 0 1,0 2.2,0a1.1,1.1 0 1,0 -2.2,0M725.90,117.50a1.1,1.1 0 1,0 2.2,0a1.1,1.1 0 1,0 -2.2,0M727.15,122.50a1.1,1.1 0 1,0 2.2,0a1.1,1.1 0 1,0 -2.2,0M728.40,135.00a1.1,1.1 0 1,0 2.2,0a1.1,1.1 0 1,0 -2.2,0M729.65,172.50a1.1,1.1 0 1,0 2.2,0a1.1,1.1 0 1,0 -2.2,0M730.90,170.00a1.1,1.1 0 1,0 2.2,0a1.1,1.1 0 1,0 -2.2,0M732.15,160.00a1.1,1.1 0 1,0 2.2,0a1.1,1.1 0 1,0 -2.2,0M733.40,150.00a1.1,1.1 0 1,0 2.2,0a1.1,1.1 0 1,0 -2.2,0" fill="#1e1e1e"/>
<path d="M11.25,340.90V343.75M10.45,341.10H11.25M11.25,342.43H12.05M12.25,342.63V344.95M11.45,342.72H12.25M12.25,343.64H13.05M13.25,343.32V345.49M12.45,345.12H13.25M13.25,343.59H14.05M14.25,342.90V349.02M13.45,346.43H14.25M14.25,345.33H15.05M15.25,344.98V348.78M14.45,346.08H15.25M15.25,345.53H16.05M16.25,341.36V345.24M15.45,342.06H16.25M16.25,343.62H17.05M17.25,341.60V344.51M16.45,341.78H17.25M17.25,341.78H18.05M18.25,338.67V342.10M17.45,339.75H18.25M18.25,340.68H19.05M19.25,342.25V345.98M18.45,344.85H19.25M19.25,343.16H20.05M20.25,347.10V351.89M19.45,350.59H20.25M20.25,348.48H21.05M21.25,353.90V356.10M20.45,355.56H21.25M21.25,354.23H22.05M22.25,349.72V352.50M21.45,351.84H22.25M22.25,351.31H23.05M23.25,352.57V355.85M22.45,354.52H23.25M23.25,354.48H24.05M24.25,352.24V359.31M23.45,355.59H24.25M24.25,356.93H25.05M25.25,353.46V357.56M24.45,357.53H25.25M25.25,356.83H26.05M26.25,357.91V361.22M25.45,357.98H26.25M26.25,359.43H27.05M27.25,365.04V366.66M26.45,366.28H27.25M27.25,365.25H28.05M28.25,361.30V365.76M27.45,361.66H28.25M28.25,363.30H29.05M29.25,355.10V361.13M28.45,360.31H29.25M29.25,356.78H30.05M30.25,354.30V358.82M29.45,358.63H30.25M30.25,354.98H31.05M31.25,352.89V354.93M30.45,353.88H31.25M31.25,354.09H32.05M32.25,354.43V356.48M31.45,355.19H32.25M32.25,355.59H33.05M33.25,357.32V361.00M32.45,359.59H33.25M33.25,359.81H34.05M34.25,357.13V363.11M33.45,362.36H34.25M34.25,361.90H35.05M35.25,362.66V364.80M34.45,364.02H35.25M35.25,362.79H36.05M36.25,360.14V362.04M35.45,360.79H36.25M36.25,360.24H37.05M37.25,364.05V365.78M36.45,364.68H37.25M37.25,364.10H38.05M38.25,364.13V366.87M37.45,364.82H38.25M38.25,365.08H39.05M39.25,362.79V366.61M38.45,366.59H39.25M39.25,364.57H40.05M40.25,362.65V364.29M39.45,363.21H40.25M40.25,363.08H41.05M41.25,358.44V360.08M40.45,360.00H41.25M41.25,359.31H42.05M42.25,351.94V354.31M41.45,353.19H42.25M42.25,354.26H43.05M43.25,350.06V353.26M42.45,351.24H43.25M43.25,350.60H44.05M44.25,347.84V351.97M43.45,349.20H44.25M44.25,348.76H45.05M45.25,341.83V350.56M44.45,348.86H45.25M45.25,348.97H46.05M46.25,344.37V346.95M45.45,345.28H46.25M46.25,344.44H47.05M47.25,343.43V345.58M46.45,344.92H47.25M47.25,345.49H48.05M48.25,338.84V348.86M47.45,348.41H48.25M48.25,342.50H49.05M49.25,338.76V340.74M48.45,339.17H49.25M49.25,339.99H50.05M50.25,337.39V341.77M49.45,340.25H50.25M50.25,340.90H51.05M51.25,334.17V339.76M50.45,338.54H51.25M51.25,338.36H52.05M52.25,339.26V342.76M51.45,340.42H52.25M52.25,342.06H53.05M53.25,340.17V342.79M52.45,342.65H53.25M53.25,342.07H54.05M54.25,339.03V340.79M53.45,340.62H54.25M54.25,340.45H55.05M55.25,339.28V347.49M54.45,344.68H55.25M55.25,342.16H56.05M56.25,345.26V346.84M55.45,346.80H56.25M56.25,346.29H57.05M57.25,343.11V348.45M56.45,347.77H57.25M57.25,347.52H58.05M58.25,346.20V348.36M57.45,346.72H58.25M58.25,347.47H59.05M59.25,348.02V350.24M58.45,350.04H59.25M59.25,348.81H60.05M60.25,350.14V355.41M59.45,352.36H60.25M60.25,354.97H61.05M61.25,349.39V352.59M60.45,349.45H61.25M61.25,350.80H62.05M62.25,351.47V354.80M61.45,352.05H62.25M62.25,353.05H63.05M63.25,352.41V355.26M62.45,353.89H63.25M63.25,353.99H64.05M64.25,351.40V353.93M63.45,352.03H64.25M64.25,352.10H65.05M65.25,348.41V351.65M64.45,350.87H65.25M65.25,351.36H66.05M66.25,350.26V353.65M65.45,352.00H66.25M66.25,352.61H67.05M67.25,356.51V359.61M66.45,359.43H67.25M67.25,358.68H68.05M68.25,358.86V364.04M67.45,361.76H68.25M68.25,363.75H69.05M69.25,364.51V366.24M68.45,365.27H69.25M69.25,364.63H70.05M70.25,363.78V366.60M69.45,365.99H70.25M70.25,366.31H71.05M71.25,359.14V363.35M70.45,359.74H71.25M71.25,362.85H72.05M72.25,367.47V372.82M71.45,369.60H72.25M72.25,370.08H73.05M73.25,369.18V372.93M72.45,370.80H73.25M73.25,371.12H74.05M74.25,367.87V369.99M73.45,369.40H74.25M74.25,367.91H75.05M75.25,364.74V366.86M74.45,365.45H75.25M75.25,366.07H76.05M76.25,370.25V376.78M75.45,375.40H76.25M76.25,376.59H77.05M77.25,372.90V374.72M76.45,374.32H77.25M77.25,373.39H78.05M78.25,375.93V380.90M77.45,380.00H78.25M78.25,377.21H79.05M79.25,376.62V382.05M78.45,380.43H79.25M79.25,377.11H80.05M80.25,380.75V384.21M79.45,381.00H80.25M80.25,384.00H81.05M81.25,383.71V387.15M80.45,386.66H81.25M81.25,383.94H82.05M82.25,381.52V384.14M81.45,382.97H82.25M82.25,383.95H83.05M83.25,378.03V380.49M82.45,378.62H83.25M83.25,378.30H84.05M84.25,379.36V381.09M83.45,379.90H84.25M84.25,379.89H85.05M85.25,384.81V387.46M84.45,385.28H85.25M85.25,385.73H86.05M86.25,384.95V386.72M85.45,386.24H86.25M86.25,385.92H87.05M87.25,386.97V392.42M86.45,387.55H87.25M87.25,391.43H88.05M88.25,385.80V390.18M87.45,387.53H88.25M88.25,388.02H89.05M89.25,379.44V386.19M88.45,385.06H89.25M89.25,384.21H90.05M90.25,380.03V382.57M89.45,380.17H90.25M90.25,380.36H91.05M91.25,372.56V375.94M90.45,373.11H91.25M91.25,372.85H92.05M92.25,370.73V375.92M91.45,372.20H92.25M92.25,371.99H93.05M93.25,368.77V371.12M92.45,369.82H93.25M93.25,369.39H94.05M94.25,366.43V373.10M93.45,368.06H94.25M94.25,372.87H95.05M95.25,369.03V370.96M94.45,369.76H95.25M95.25,369.94H96.05M96.25,368.79V371.30M95.45,368.80H96.25M96.25,369.45H97.05M97.25,369.37V371.43M96.45,369.42H97.25M97.25,370.00H98.05M98.25,369.80V373.16M97.45,372.32H98.25M98.25,372.01H99.05M99.25,371.08V375.60M98.45,372.55H99.25M99.25,375.53H100.05M100.25,375.24V379.43M99.45,375.43H100.25M100.25,378.74H101.05M101.25,387.13V391.31M100.45,390.52H101.25M101.25,387.72H102.05M102.25,392.52V396.92M101.45,396.06H102.25M102.25,396.16H103.05M103.25,394.84V400.30M102.45,398.62H103.25M103.25,396.09H104.05M104.25,398.91V401.02M103.45,399.13H104.25M104.25,400.67H105.05M105.25,401.67V405.43M104.45,404.23H105.25M105.25,403.51H106.05M106.25,401.09V406.06M105.45,403.59H106.25M106.25,403.75H107.05M107.25,399.83V402.92M106.45,400.61H107.25M107.25,400.06H108.05M108.25,394.32V397.57M107.45,396.72H108.25M108.25,397.49H109.05M109.25,392.71V395.47M108.45,394.59H109.25M109.25,394.82H110.05M110.25,389.12V391.85M109.45,389.52H110.25M110.25,389.81H111.05M111.25,389.25V392.09M110.45,389.28H111.25M111.25,389.42H112.05M112.25,390.11V394.26M111.45,392.92H112.25M112.25,391.32H113.05M113.25,394.34V397.25M112.45,394.69H113.25M113.25,396.94H114.05M114.25,390.68V399.97M113.45,390.84H114.25M114.25,394.95H115.05M115.25,391.50V397.75M114.45,393.18H115.25M115.25,392.81H116.05M116.25,393.67V396.40M115.45,394.06H116.25M116.25,395.10H117.05M117.25,390.81V394.44M116.45,392.65H117.25M117.25,394.03H118.05M118.25,390.01V394.46M117.45,392.18H118.25M118.25,390.12H119.05M119.25,389.20V392.13M118.45,390.08H119.25M119.25,389.61H120.05M120.25,392.44V396.50M119.45,392.45H120.25M120.25,395.48H121.05M121.25,396.03V400.71M120.45,399.37H121.25M121.25,400.25H122.05M122.25,396.19V398.75M121.45,398.75H122.25M122.25,397.70H123.05M123.25,393.77V396.22M122.45,393.89H123.25M123.25,394.02H124.05M124.25,391.27V396.36M123.45,392.54H124.25M124.25,392.62H125.05M125.25,386.83V389.04M124.45,388.94H125.25M125.25,388.78H126.05M126.25,383.67V389.20M125.45,388.87H126.25M126.25,386.70H127.05M127.25,382.56V385.60M126.45,383.93H127.25M127.25,384.85H128.05M128.25,382.27V384.14M127.45,384.00H128.25M128.25,382.51H129.05M129.25,381.22V383.55M128.45,382.94H129.25M129.25,383.50H130.05M130.25,377.90V381.01M129.45,379.63H130.25M130.25,379.12H131.05M131.25,376.72V378.61M130.45,378.44H131.25M131.25,377.66H132.05M132.25,372.23V381.77M131.45,376.52H132.25M132.25,373.56H133.05M133.25,373.64V375.65M132.45,373.82H133.25M133.25,374.12H134.05M134.25,371.41V376.44M133.45,375.18H134.25M134.25,373.49H135.05M135.25,370.68V373.54M134.45,371.65H135.25M135.25,370.86H136.05M136.25,368.10V373.78M135.45,370.96H136.25M136.25,371.68H137.05M137.25,371.45V373.52M136.45,371.97H137.25M137.25,372.28H138.05M138.25,365.72V373.08M137.45,372.14H138.25M138.25,365.88H139.05M139.25,367.35V372.95M138.45,370.00H139.25M139.25,370.64H140.05M140.25,368.90V374.04M139.45,373.14H140.25M140.25,373.30H141.05M141.25,368.69V370.57M140.45,368.98H141.25M141.25,369.67H142.05M142.25,361.87V368.21M141.45,365.97H142.25M142.25,366.72H143.05M143.25,361.48V363.89M142.45,363.36H143.25M143.25,362.04H144.05M144.25,360.90V363.98M143.45,361.29H144.25M144.25,361.67H145.05M145.25,358.97V361.95M144.45,359.18H145.25M145.25,360.53H146.05M146.25,358.68V360.97M145.45,360.05H146.25M146.25,358.70H147.05M147.25,358.79V364.77M146.45,362.64H147.25M147.25,364.07H148.05M148.25,361.41V363.48M147.45,363.40H148.25M148.25,362.87H149.05M149.25,363.27V365.53M148.45,364.79H149.25M149.25,364.22H150.05M150.25,363.85V369.68M149.45,365.17H150.25M150.25,364.05H151.05M151.25,366.72V370.16M150.45,367.40H151.25M151.25,369.46H152.05M152.25,368.58V371.10M151.45,371.02H152.25M152.25,369.36H153.05M153.25,371.07V373.08M152.45,372.60H153.25M153.25,371.66H154.05M154.25,373.90V376.37M153.45,374.46H154.25M154.25,374.93H155.05M155.25,374.16V379.32M154.45,376.19H155.25M155.25,375.26H156.05M156.25,381.35V383.00M155.45,381.45H156.25M156.25,382.00H157.05M157.25,379.75V385.32M156.45,385.30H157.25M157.25,384.94H158.05M158.25,383.11V388.05M157.45,386.80H158.25M158.25,383.27H159.05M159.25,385.66V388.19M158.45,386.50H159.25M159.25,386.09H160.05M160.25,384.36V386.68M159.45,386.57H160.25M160.25,384.65H161.05M161.25,384.98V387.19M160.45,386.79H161.25M161.25,386.79H162.05M162.25,379.81V382.04M161.45,380.65H162.25M162.25,381.86H163.05M163.25,375.46V380.13M162.45,375.60H163.25M163.25,377.38H164.05M164.25,376.86V380.06M163.45,376.98H164.25M164.25,377.06H165.05M165.25,383.04V386.44M164.45,386.10H165.25M165.25,384.19H166.05M166.25,380.91V387.26M165.45,382.58H166.25M166.25,385.46H167.05M167.25,386.44V388.23M166.45,387.79H167.25M167.25,388.08H168.05M168.25,386.21V391.08M167.45,387.34H168.25M168.25,388.52H169.05M169.25,388.30V393.97M168.45,389.72H169.25M169.25,390.74H170.05M170.25,389.12V393.93M169.45,392.98H170.25M170.25,392.67H171.05M171.25,394.36V398.66M170.45,395.77H171.25M171.25,395.73H172.05M172.25,398.11V401.44M171.45,398.77H172.25M172.25,400.62H173.05M173.25,401.56V403.08M172.45,402.40H173.25M173.25,402.06H174.05M174.25,402.47V411.74M173.45,404.92H174.25M174.25,403.25H175.05M175.25,403.67V407.39M174.45,405.33H175.25M175.25,404.54H176.05M176.25,405.17V409.08M175.45,408.09H176.25M176.25,408.48H177.05M177.25,408.82V412.58M176.45,409.93H177.25M177.25,410.95H178.05M178.25,404.11V407.39M177.45,404.92H178.25M178.25,404.92H179.05M179.25,398.56V403.58M178.45,400.20H179.25M179.25,400.55H180.05M180.25,399.23V401.80M179.45,401.30H180.25M180.25,400.91H181.05M181.25,398.95V401.25M180.45,400.83H181.25M181.25,400.88H182.05M182.25,402.83V404.69M181.45,403.05H182.25M182.25,403.18H183.05M183.25,405.23V410.87M182.45,407.33H183.25M183.25,410.12H184.05M184.25,407.06V410.62M183.45,410.43H184.25M184.25,407.43H185.05M185.25,408.89V411.74M184.45,409.94H185.25M185.25,409.29H186.05M186.25,411.68V414.53M185.45,413.54H186.25M186.25,412.26H187.05M187.25,407.05V410.29M186.45,407.65H187.25M187.25,408.06H188.05M188.25,403.63V407.88M187.45,403.89H188.25M188.25,404.06H189.05M189.25,402.57V406.15M188.45,402.90H189.25M189.25,403.16H190.05M190.25,401.68V404.11M189.45,402.42H190.25M190.25,403.99H191.05M191.25,401.31V404.24M190.45,402.53H191.25M191.25,403.84H192.05M192.25,400.55V402.75M191.45,402.15H192.25M192.25,401.00H193.05M193.25,392.73V397.58M192.45,396.71H193.25M193.25,394.70H194.05M194.25,394.05V396.41M193.45,394.09H194.25M194.25,395.35H195.05M195.25,388.78V393.18M194.45,391.52H195.25M195.25,390.41H196.05M196.25,390.12V392.11M195.45,391.16H196.25M196.25,391.96H197.05M197.25,387.47V391.64M196.45,391.51H197.25M197.25,388.30H198.05M198.25,386.89V396.18M197.45,391.38H198.25M198.25,387.39H199.05M199.25,392.32V397.12M198.45,395.30H199.25M199.25,396.28H200.05M200.25,389.03V392.58M199.45,390.46H200.25M200.25,392.03H201.05M201.25,398.21V400.14M200.45,398.98H201.25M201.25,399.21H202.05M202.25,397.84V399.74M201.45,399.22H202.25M202.25,399.54H203.05M203.25,394.62V398.71M202.45,394.77H203.25M203.25,398.04H204.05M204.25,392.21V395.66M203.45,394.38H204.25M204.25,393.27H205.05M205.25,389.04V392.16M204.45,391.10H205.25M205.25,390.44H206.05M206.25,384.11V386.70M205.45,385.38H206.25M206.25,384.72H207.05M207.25,380.92V384.87M206.45,381.63H207.25M207.25,382.79H208.05M208.25,380.86V383.10M207.45,381.07H208.25M208.25,381.85H209.05M209.25,383.03V385.69M208.45,383.25H209.25M209.25,384.98H210.05M210.25,383.91V386.24M209.45,385.08H210.25M210.25,384.79H211.05M211.25,383.05V386.96M210.45,386.94H211.25M211.25,385.91H212.05M212.25,382.86V389.32M211.45,386.04H212.25M212.25,389.04H213.05M213.25,382.67V386.15M212.45,385.90H213.25M213.25,382.89H214.05M214.25,377.97V381.27M213.45,380.93H214.25M214.25,378.88H215.05M215.25,379.68V382.11M214.45,381.91H215.25M215.25,380.19H216.05M216.25,379.59V382.29M215.45,379.69H216.25M216.25,380.08H217.05M217.25,376.61V382.69M216.45,382.05H217.25M217.25,377.64H218.05M218.25,379.39V381.85M217.45,380.96H218.25M218.25,380.28H219.05M219.25,376.30V379.71M218.45,379.31H219.25M219.25,376.65H220.05M220.25,375.39V378.58M219.45,377.94H220.25M220.25,376.23H221.05M221.25,377.54V380.51M220.45,379.81H221.25M221.25,378.86H222.05M222.25,378.33V381.42M221.45,380.86H222.25M222.25,379.11H223.05M223.25,378.70V386.12M222.45,383.62H223.25M223.25,381.02H224.05M224.25,382.71V384.35M223.45,383.72H224.25M224.25,383.42H225.05M225.25,381.37V385.65M224.45,382.35H225.25M225.25,384.17H226.05M226.25,381.80V383.73M225.45,382.01H226.25M226.25,382.49H227.05M227.25,379.53V383.05M226.45,380.25H227.25M227.25,381.73H228.05M228.25,378.06V382.94M227.45,379.25H228.25M228.25,378.79H229.05M229.25,375.53V380.61M228.45,379.50H229.25M229.25,377.57H230.05M230.25,387.17V389.83M229.45,388.67H230.25M230.25,388.10H231.05M231.25,391.47V396.90M230.45,395.45H231.25M231.25,392.82H232.05M232.25,394.55V396.91M231.45,395.50H232.25M232.25,395.11H233.05M233.25,391.59V394.82M232.45,393.37H233.25M233.25,394.63H234.05M234.25,394.35V397.14M233.45,395.77H234.25M234.25,396.14H235.05M235.25,397.13V399.21M234.45,397.76H235.25M235.25,397.24H236.05M236.25,394.73V399.47M235.45,394.76H236.25M236.25,398.73H237.05M237.25,394.44V398.21M236.45,396.14H237.25M237.25,395.29H238.05M238.25,393.21V394.97M237.45,393.80H238.25M238.25,394.53H239.05M239.25,393.32V398.45M238.45,394.68H239.25M239.25,396.16H240.05M240.25,392.02V396.17M239.45,393.12H240.25M240.25,394.69H241.05M241.25,393.97V398.20M240.45,394.03H241.25M241.25,395.07H242.05M242.25,391.98V398.49M241.45,396.84H242.25M242.25,394.11H243.05M243.25,394.31V396.52M242.45,396.31H243.25M243.25,395.70H244.05M244.25,389.99V397.34M243.45,393.44H244.25M244.25,396.16H245.05M245.25,385.98V390.40M244.45,389.18H245.25M245.25,388.50H246.05M246.25,386.01V388.87M245.45,386.24H246.25M246.25,388.61H247.05M247.25,384.09V385.66M246.45,385.55H247.25M247.25,384.63H248.05M248.25,382.08V383.57M247.45,383.11H248.25M248.25,383.03H249.05M249.25,380.46V383.54M248.45,382.28H249.25M249.25,381.58H250.05M250.25,380.32V386.44M249.45,380.72H250.25M250.25,385.63H251.05M251.25,380.16V385.16M250.45,381.19H251.25M251.25,380.72H252.05M252.25,381.58V387.25M251.45,385.17H252.25M252.25,386.25H253.05M253.25,384.49V386.42M252.45,384.67H253.25M253.25,385.95H254.05M254.25,380.07V382.59M253.45,380.12H254.25M254.25,380.72H255.05M255.25,378.23V381.69M254.45,379.34H255.25M255.25,381.56H256.05M256.25,377.02V381.87M255.45,377.17H256.25M256.25,379.02H257.05M257.25,376.36V380.05M256.45,378.96H257.25M257.25,378.34H258.05M258.25,374.68V378.58M257.45,377.88H258.25M258.25,375.35H259.05M259.25,375.73V379.13M258.45,379.05H259.25M259.25,375.75H260.05M260.25,374.46V378.59M259.45,375.23H260.25M260.25,376.50H261.05M261.25,368.76V372.66M260.45,372.45H261.25M261.25,369.87H262.05M262.25,367.37V371.04M261.45,367.77H262.25M262.25,369.70H263.05M263.25,366.60V371.29M262.45,370.29H263.25M263.25,369.55H264.05M264.25,369.81V372.43M263.45,372.14H264.25M264.25,370.03H265.05M265.25,373.78V375.49M264.45,374.23H265.25M265.25,375.32H266.05M266.25,373.23V377.79M265.45,374.30H266.25M266.25,375.33H267.05M267.25,370.95V375.71M266.45,374.03H267.25M267.25,372.61H268.05M268.25,370.40V374.22M267.45,372.93H268.25M268.25,373.23H269.05M269.25,369.00V372.87M268.45,371.24H269.25M269.25,369.49H270.05M270.25,368.85V373.18M269.45,369.68H270.25M270.25,370.16H271.05M271.25,371.85V375.68M270.45,372.45H271.25M271.25,372.80H272.05M272.25,374.21V376.71M271.45,375.03H272.25M272.25,374.69H273.05M273.25,377.22V380.31M272.45,380.20H273.25M273.25,377.53H274.05M274.25,374.30V382.55M273.45,380.35H274.25M274.25,377.89H275.05M275.25,379.54V382.30M274.45,380.11H275.25M275.25,380.61H276.05M276.25,379.73V383.62M275.45,382.42H276.25M276.25,381.67H277.05M277.25,381.90V384.23M276.45,383.30H277.25M277.25,382.84H278.05M278.25,381.06V386.00M277.45,383.90H278.25M278.25,384.76H279.05M279.25,383.28V386.53M278.45,386.14H279.25M279.25,385.80H280.05M280.25,381.02V386.09M279.45,384.27H280.25M280.25,383.32H281.05M281.25,379.13V381.84M280.45,380.26H281.25M281.25,381.25H282.05M282.25,377.41V380.35M281.45,378.66H282.25M282.25,378.75H283.05M283.25,377.23V380.62M282.45,380.38H283.25M283.25,377.85H284.05M284.25,378.64V382.44M283.45,380.50H284.25M284.25,382.35H285.05M285.25,381.91V384.46M284.45,383.90H285.25M285.25,384.31H286.05M286.25,386.97V389.53M285.45,388.35H286.25M286.25,388.80H287.05M287.25,388.11V392.85M286.45,390.58H287.25M287.25,390.05H288.05M288.25,390.68V393.75M287.45,391.89H288.25M288.25,393.02H289.05M289.25,382.82V389.75M288.45,383.21H289.25M289.25,384.72H290.05M290.25,387.52V389.59M289.45,388.39H290.25M290.25,388.97H291.05M291.25,387.05V389.12M290.45,388.58H291.25M291.25,389.00H292.05M292.25,386.07V389.71M291.45,387.50H292.25M292.25,386.84H293.05M293.25,381.54V386.73M292.45,384.83H293.25M293.25,383.97H294.05M294.25,382.90V388.60M293.45,384.91H294.25M294.25,386.54H295.05M295.25,382.85V387.04M294.45,384.08H295.25M295.25,385.14H296.05M296.25,381.92V386.00M295.45,385.39H296.25M296.25,383.01H297.05M297.25,383.13V385.54M296.45,383.58H297.25M297.25,383.13H298.05M298.25,381.98V384.11M297.45,382.62H298.25M298.25,383.00H299.05M299.25,378.40V382.31M298.45,379.81H299.25M299.25,382.03H300.05M300.25,378.65V382.23M299.45,381.90H300.25M300.25,381.46H301.05M301.25,372.73V377.47M300.45,372.80H301.25M301.25,372.78H302.05M302.25,374.44V377.47M301.45,374.75H302.25M302.25,374.88H303.05M303.25,371.56V375.27M302.45,372.13H303.25M303.25,374.91H304.05M304.25,374.59V378.87M303.45,377.19H304.25M304.25,377.93H305.05M305.25,371.80V377.75M304.45,376.79H305.25M305.25,372.97H306.05M306.25,372.64V376.58M305.45,374.37H306.25M306.25,376.12H307.05M307.25,372.57V374.66M306.45,372.87H307.25M307.25,373.60H308.05M308.25,370.40V372.74M307.45,371.55H308.25M308.25,371.56H309.05M309.25,369.27V373.06M308.45,372.46H309.25M309.25,371.04H310.05M310.25,370.40V375.32M309.45,372.24H310.25M310.25,372.46H311.05M311.25,373.65V376.36M310.45,375.38H311.25M311.25,373.73H312.05M312.25,370.96V376.95M311.45,372.94H312.25M312.25,376.84H313.05M313.25,370.78V375.71M312.45,370.95H313.25M313.25,374.32H314.05M314.25,371.63V375.90M313.45,373.19H314.25M314.25,373.66H315.05M315.25,371.10V374.55M314.45,372.60H315.25M315.25,372.56H316.05M316.25,371.84V375.76M315.45,375.08H316.25M316.25,373.42H317.05M317.25,374.43V377.06M316.45,376.99H317.25M317.25,376.15H318.05M318.25,376.08V378.42M317.45,376.78H318.25M318.25,377.45H319.05M319.25,373.81V377.10M318.45,376.19H319.25M319.25,376.72H320.05M320.25,370.36V372.25M319.45,370.37H320.25M320.25,370.72H321.05M321.25,369.27V373.08M320.45,372.28H321.25M321.25,372.74H322.05M322.25,370.44V374.17M321.45,373.04H322.25M322.25,372.67H323.05M323.25,373.98V376.99M322.45,375.36H323.25M323.25,376.28H324.05M324.25,373.52V375.21M323.45,374.83H324.25M324.25,375.06H325.05M325.25,372.65V376.68M324.45,375.82H325.25M325.25,374.92H326.05M326.25,371.74V374.23M325.45,372.53H326.25M326.25,372.81H327.05M327.25,369.16V373.89M326.45,371.84H327.25M327.25,369.35H328.05M328.25,369.06V373.49M327.45,373.13H328.25M328.25,371.04H329.05M329.25,370.70V373.76M328.45,373.57H329.25M329.25,373.70H330.05M330.25,370.85V373.02M329.45,372.24H330.25M330.25,371.31H331.05M331.25,370.63V372.05M330.45,371.60H331.25M331.25,370.80H332.05M332.25,371.90V375.86M331.45,372.41H332.25M332.25,371.97H333.05M333.25,369.54V372.86M332.45,370.16H333.25M333.25,369.70H334.05M334.25,366.76V371.98M333.45,370.57H334.25M334.25,367.20H335.05M335.25,365.40V369.03M334.45,368.78H335.25M335.25,366.32H336.05M336.25,367.24V370.17M335.45,367.28H336.25M336.25,369.15H337.05M337.25,370.78V372.72M336.45,372.20H337.25M337.25,371.10H338.05M338.25,372.19V374.46M337.45,373.02H338.25M338.25,373.50H339.05M339.25,370.29V373.23M338.45,372.63H339.25M339.25,371.35H340.05M340.25,366.98V370.23M339.45,368.23H340.25M340.25,369.53H341.05M341.25,365.11V369.36M340.45,366.36H341.25M341.25,365.37H342.05M342.25,366.57V371.54M341.45,368.22H342.25M342.25,369.58H343.05M343.25,365.41V370.04M342.45,366.84H343.25M343.25,367.39H344.05M344.25,363.99V367.34M343.45,366.01H344.25M344.25,367.00H345.05M345.25,361.95V363.75M344.45,362.42H345.25M345.25,362.71H346.05M346.25,358.74V364.80M345.45,359.00H346.25M346.25,363.79H347.05M347.25,357.94V362.78M346.45,359.26H347.25M347.25,362.06H348.05M348.25,358.46V364.19M347.45,360.45H348.25M348.25,358.95H349.05M349.25,357.02V360.61M348.45,359.71H349.25M349.25,360.36H350.05M350.25,355.99V359.87M349.45,357.79H350.25M350.25,356.79H351.05M351.25,353.49V358.44M350.45,355.77H351.25M351.25,353.93H352.05M352.25,352.07V355.57M351.45,354.10H352.25M352.25,355.21H353.05M353.25,351.17V354.23M352.45,352.97H353.25M353.25,351.75H354.05M354.25,349.76V352.85M353.45,350.88H354.25M354.25,351.50H355.05M355.25,351.67V354.14M354.45,351.78H355.25M355.25,354.13H356.05M356.25,353.34V356.07M355.45,355.49H356.25M356.25,353.77H357.05M357.25,354.55V357.33M356.45,354.60H357.25M357.25,354.64H358.05M358.25,354.66V359.27M357.45,357.28H358.25M358.25,355.87H359.05M359.25,356.36V361.94M358.45,360.64H359.25M359.25,360.93H360.05M360.25,356.15V357.95M359.45,356.51H360.25M360.25,356.48H361.05M361.25,352.15V354.60M360.45,354.28H361.25M361.25,353.27H362.05M362.25,349.57V353.94M361.45,352.19H362.25M362.25,351.31H363.05M363.25,345.47V351.07M362.45,348.63H363.25M363.25,349.06H364.05M364.25,349.91V353.24M363.45,351.40H364.25M364.25,350.44H365.05M365.25,344.96V351.96M364.45,345.23H365.25M365.25,346.75H366.05M366.25,347.87V354.88M365.45,353.74H366.25M366.25,348.20H367.05M367.25,350.06V354.19M366.45,354.13H367.25M367.25,350.29H368.05M368.25,346.69V353.14M367.45,351.06H368.25M368.25,348.62H369.05M369.25,345.84V349.07M368.45,346.88H369.25M369.25,346.67H370.05M370.25,343.54V345.94M369.45,344.11H370.25M370.25,343.88H371.05M371.25,344.75V347.68M370.45,345.32H371.25M371.25,344.85H372.05M372.25,344.11V349.07M371.45,348.41H372.25M372.25,348.52H373.05M373.25,340.65V342.89M372.45,342.73H373.25M373.25,342.53H374.05M374.25,340.91V343.53M373.45,343.07H374.25M374.25,342.16H375.05M375.25,340.45V342.33M374.45,340.56H375.25M375.25,341.79H376.05M376.25,341.25V345.29M375.45,342.33H376.25M376.25,342.92H377.05M377.25,339.53V343.50M376.45,340.86H377.25M377.25,340.19H378.05M378.25,340.32V344.98M377.45,340.85H378.25M378.25,344.88H379.05M379.25,337.44V342.87M378.45,338.59H379.25M379.25,340.04H380.05M380.25,339.39V341.41M379.45,340.13H380.25M380.25,341.40H381.05M381.25,337.49V342.12M380.45,338.83H381.25M381.25,341.64H382.05M382.25,337.09V340.47M381.45,340.39H382.25M382.25,337.15H383.05M383.25,341.10V343.18M382.45,341.10H383.25M383.25,342.83H384.05M384.25,341.83V344.16M383.45,343.96H384.25M384.25,342.34H385.05M385.25,343.85V345.67M384.45,345.25H385.25M385.25,345.14H386.05M386.25,343.79V345.40M385.45,344.77H386.25M386.25,344.58H387.05M387.25,344.31V347.12M386.45,346.30H387.25M387.25,346.59H388.05M388.25,345.74V347.50M387.45,347.03H388.25M388.25,346.46H389.05M389.25,347.31V350.77M388.45,348.47H389.25M389.25,350.23H390.05M390.25,347.93V350.17M389.45,349.97H390.25M390.25,349.00H391.05M391.25,349.02V351.04M390.45,350.70H391.25M391.25,349.76H392.05M392.25,347.49V350.53M391.45,347.51H392.25M392.25,349.07H393.05M393.25,348.66V351.09M392.45,350.40H393.25M393.25,350.64H394.05M394.25,351.66V355.02M393.45,352.94H394.25M394.25,354.18H395.05M395.25,349.06V356.63M394.45,352.81H395.25M395.25,352.95H396.05M396.25,353.70V356.05M395.45,355.98H396.25M396.25,354.23H397.05M397.25,353.59V355.47M396.45,355.13H397.25M397.25,353.65H398.05M398.25,350.44V353.54M397.45,350.49H398.25M398.25,352.29H399.05M399.25,351.74V355.48M398.45,352.12H399.25M399.25,354.99H400.05M400.25,352.43V354.05M399.45,353.23H400.25M400.25,353.24H401.05M401.25,351.82V354.00M400.45,352.12H401.25M401.25,353.11H402.05M402.25,352.30V354.91M401.45,354.25H402.25M402.25,352.73H403.05M403.25,346.32V351.64M402.45,348.56H403.25M403.25,350.79H404.05M404.25,346.26V351.67M403.45,350.46H404.25M404.25,348.09H405.05M405.25,342.64V345.21M404.45,345.16H405.25M405.25,344.71H406.05M406.25,342.85V348.53M405.45,343.15H406.25M406.25,345.79H407.05M407.25,342.72V347.73M406.45,344.84H407.25M407.25,345.89H408.05M408.25,344.41V346.81M407.45,345.45H408.25M408.25,345.62H409.05M409.25,344.75V350.52M408.45,349.23H409.25M409.25,350.16H410.05M410.25,345.03V351.01M409.45,350.32H410.25M410.25,345.24H411.05M411.25,346.42V349.55M410.45,347.28H411.25M411.25,348.12H412.05M412.25,345.86V348.77M411.45,347.38H412.25M412.25,347.13H413.05M413.25,346.57V348.81M412.45,348.02H413.25M413.25,346.84H414.05M414.25,343.29V349.31M413.45,344.91H414.25M414.25,346.10H415.05M415.25,347.70V349.45M414.45,347.93H415.25M415.25,348.21H416.05M416.25,348.15V350.29M415.45,348.34H416.25M416.25,349.32H417.05M417.25,349.55V353.10M416.45,351.86H417.25M417.25,350.27H418.05M418.25,350.86V353.95M417.45,352.75H418.25M418.25,352.31H419.05M419.25,352.22V354.26M418.45,353.27H419.25M419.25,353.00H420.05M420.25,356.26V358.19M419.45,357.93H420.25M420.25,356.72H421.05M421.25,356.89V359.50M420.45,359.47H421.25M421.25,357.66H422.05M422.25,359.05V360.74M421.45,360.52H422.25M422.25,359.79H423.05M423.25,357.82V360.51M422.45,359.80H423.25M423.25,358.12H424.05M424.25,355.99V362.85M423.45,357.05H424.25M424.25,358.30H425.05M425.25,359.82V363.72M424.45,363.13H425.25M425.25,363.02H426.05M426.25,360.99V365.63M425.45,364.51H426.25M426.25,363.19H427.05M427.25,362.81V368.64M426.45,363.55H427.25M427.25,367.89H428.05M428.25,361.27V365.47M427.45,363.36H428.25M428.25,365.31H429.05M429.25,363.84V367.72M428.45,367.23H429.25M429.25,366.20H430.05M430.25,360.26V363.12M429.45,362.33H430.25M430.25,361.10H431.05M431.25,357.04V360.00M430.45,357.99H431.25M431.25,359.37H432.05M432.25,356.38V359.31M431.45,356.92H432.25M432.25,357.27H433.05M433.25,353.52V357.00M432.45,353.83H433.25M433.25,356.72H434.05M434.25,352.49V358.30M433.45,358.06H434.25M434.25,353.68H435.05M435.25,351.79V356.10M434.45,351.99H435.25M435.25,354.22H436.05M436.25,352.21V358.42M435.45,355.56H436.25M436.25,358.41H437.05M437.25,355.22V358.88M436.45,356.65H437.25M437.25,356.53H438.05M438.25,357.28V362.74M437.45,360.97H438.25M438.25,360.15H439.05M439.25,358.94V361.52M438.45,360.39H439.25M439.25,360.42H440.05M440.25,359.53V365.74M439.45,362.26H440.25M440.25,363.41H441.05M441.25,364.59V367.40M440.45,366.88H441.25M441.25,365.07H442.05M442.25,360.22V368.33M441.45,364.38H442.25M442.25,361.12H443.05M443.25,366.92V371.79M442.45,371.74H443.25M443.25,371.24H444.05M444.25,368.89V370.91M443.45,369.92H444.25M444.25,369.91H445.05M445.25,370.25V373.08M444.45,371.96H445.25M445.25,371.25H446.05M446.25,370.37V373.04M445.45,371.47H446.25M446.25,372.47H447.05M447.25,365.39V368.20M446.45,366.25H447.25M447.25,367.76H448.05M448.25,362.45V365.44M447.45,363.94H448.25M448.25,364.10H449.05M449.25,358.69V362.25M448.45,362.24H449.25M449.25,360.74H450.05M450.25,357.16V358.92M449.45,358.50H450.25M450.25,357.35H451.05M451.25,354.79V357.30M450.45,356.85H451.25M451.25,356.33H452.05M452.25,355.77V357.26M451.45,356.92H452.25M452.25,356.25H453.05M453.25,354.21V356.36M452.45,354.78H453.25M453.25,354.42H454.05M454.25,353.68V356.64M453.45,355.01H454.25M454.25,354.82H455.05M455.25,349.36V354.47M454.45,354.26H455.25M455.25,351.61H456.05M456.25,352.27V354.07M455.45,353.94H456.25M456.25,353.81H457.05M457.25,346.57V352.75M456.45,348.45H457.25M457.25,350.29H458.05M458.25,346.92V352.73M457.45,348.34H458.25M458.25,349.19H459.05M459.25,345.82V347.96M458.45,347.69H459.25M459.25,346.86H460.05M460.25,344.98V346.94M459.45,345.68H460.25M460.25,345.34H461.05M461.25,344.36V347.17M460.45,344.69H461.25M461.25,345.86H462.05M462.25,341.63V343.73M461.45,341.89H462.25M462.25,343.37H463.05M463.25,341.08V343.07M462.45,341.64H463.25M463.25,341.55H464.05M464.25,339.28V342.49M463.45,339.78H464.25M464.25,341.55H465.05M465.25,340.36V344.30M464.45,340.87H465.25M465.25,342.11H466.05M466.25,340.34V343.91M465.45,341.60H466.25M466.25,342.92H467.05M467.25,336.79V342.28M466.45,342.02H467.25M467.25,339.56H468.05M468.25,338.99V341.28M467.45,340.61H468.25M468.25,339.59H469.05M469.25,339.90V342.91M468.45,340.64H469.25M469.25,341.73H470.05M470.25,336.21V340.23M469.45,338.27H470.25M470.25,338.39H471.05M471.25,336.93V340.69M470.45,339.40H471.25M471.25,339.06H472.05M472.25,338.22V340.32M471.45,338.59H472.25M472.25,340.00H473.05M473.25,337.78V340.62M472.45,339.38H473.25M473.25,338.81H474.05M474.25,340.13V342.03M473.45,340.72H474.25M474.25,340.56H475.05M475.25,335.06V338.38M474.45,336.40H475.25M475.25,338.07H476.05M476.25,332.69V339.04M475.45,333.53H476.25M476.25,334.45H477.05M477.25,329.46V333.53M476.45,330.89H477.25M477.25,331.14H478.05M478.25,329.27V332.46M477.45,331.97H478.25M478.25,330.39H479.05M479.25,329.39V331.18M478.45,331.03H479.25M479.25,330.71H480.05M480.25,329.80V331.30M479.45,330.05H480.25M480.25,330.10H481.05M481.25,327.46V329.49M480.45,328.09H481.25M481.25,328.75H482.05M482.25,326.02V330.63M481.45,329.32H482.25M482.25,327.20H483.05M483.25,328.50V331.80M482.45,328.50H483.25M483.25,331.25H484.05M484.25,328.36V330.22M483.45,329.95H484.25M484.25,329.49H485.05M485.25,325.54V327.41M484.45,327.02H485.25M485.25,325.93H486.05M486.25,325.47V328.64M485.45,327.67H486.25M486.25,326.71H487.05M487.25,324.58V328.49M486.45,324.93H487.25M487.25,328.28H488.05M488.25,323.91V329.91M487.45,328.34H488.25M488.25,328.89H489.05M489.25,328.91V331.10M488.45,330.44H489.25M489.25,329.85H490.05M490.25,327.17V331.89M489.45,330.77H490.25M490.25,327.38H491.05M491.25,329.86V333.59M490.45,331.90H491.25M491.25,333.48H492.05M492.25,330.72V333.40M491.45,330.87H492.25M492.25,331.68H493.05M493.25,329.55V331.67M492.45,329.84H493.25M493.25,331.05H494.05M494.25,328.17V330.22M493.45,329.23H494.25M494.25,329.08H495.05M495.25,327.66V330.01M494.45,329.74H495.25M495.25,328.00H496.05M496.25,325.73V329.64M495.45,327.87H496.25M496.25,328.70H497.05M497.25,324.37V328.19M496.45,326.13H497.25M497.25,327.29H498.05M498.25,328.27V330.22M497.45,328.97H498.25M498.25,328.67H499.05M499.25,324.01V326.07M498.45,325.46H499.25M499.25,324.93H500.05M500.25,321.07V323.70M499.45,322.03H500.25M500.25,321.52H501.05M501.25,319.17V325.89M500.45,324.21H501.25M501.25,319.74H502.05M502.25,315.16V322.26M501.45,315.93H502.25M502.25,318.63H503.05M503.25,318.63V321.22M502.45,318.65H503.25M503.25,321.01H504.05M504.25,317.24V323.11M503.45,321.07H504.25M504.25,318.72H505.05M505.25,316.21V317.82M504.45,317.46H505.25M505.25,317.56H506.05M506.25,315.27V318.14M505.45,317.70H506.25M506.25,317.93H507.05M507.25,313.35V318.72M506.45,317.33H507.25M507.25,315.10H508.05M508.25,314.39V318.34M507.45,315.84H508.25M508.25,316.57H509.05M509.25,316.82V320.69M508.45,316.98H509.25M509.25,319.01H510.05M510.25,313.58V318.50M509.45,318.03H510.25M510.25,318.23H511.05M511.25,312.70V315.14M510.45,313.43H511.25M511.25,314.12H512.05M512.25,310.06V313.07M511.45,311.40H512.25M512.25,312.98H513.05M513.25,310.93V313.08M512.45,311.34H513.25M513.25,312.48H514.05M514.25,309.55V315.48M513.45,314.21H514.25M514.25,312.07H515.05M515.25,308.19V311.75M514.45,309.69H515.25M515.25,309.39H516.05M516.25,307.07V311.89M515.45,311.43H516.25M516.25,307.87H517.05M517.25,307.82V310.91M516.45,308.89H517.25M517.25,308.42H518.05M518.25,308.50V311.11M517.45,311.04H518.25M518.25,310.87H519.05M519.25,304.60V314.32M518.45,310.63H519.25M519.25,312.48H520.05M520.25,308.55V312.43M519.45,309.70H520.25M520.25,310.77H521.05M521.25,312.94V316.38M520.45,313.97H521.25M521.25,314.12H522.05M522.25,312.02V313.70M521.45,313.16H522.25M522.25,312.77H523.05M523.25,304.93V308.18M522.45,306.82H523.25M523.25,306.28H524.05M524.25,303.38V306.38M523.45,303.72H524.25M524.25,303.92H525.05M525.25,303.36V305.86M524.45,305.51H525.25M525.25,303.99H526.05M526.25,301.09V303.74M525.45,302.39H526.25M526.25,302.56H527.05M527.25,301.82V304.38M526.45,303.13H527.25M527.25,303.33H528.05M528.25,302.08V304.20M527.45,303.01H528.25M528.25,303.91H529.05M529.25,300.43V305.03M528.45,300.95H529.25M529.25,304.99H530.05M530.25,303.25V306.90M529.45,304.68H530.25M530.25,303.87H531.05M531.25,301.75V305.94M530.45,302.32H531.25M531.25,305.00H532.05M532.25,298.58V300.86M531.45,298.61H532.25M532.25,299.93H533.05M533.25,298.38V301.68M532.45,299.78H533.25M533.25,301.31H534.05M534.25,298.40V303.26M533.45,302.86H534.25M534.25,302.63H535.05M535.25,297.04V300.59M534.45,299.75H535.25M535.25,299.46H536.05M536.25,299.24V301.36M535.45,300.80H536.25M536.25,301.25H537.05M537.25,299.57V302.14M536.45,299.83H537.25M537.25,300.98H538.05M538.25,300.69V305.35M537.45,303.84H538.25M538.25,301.88H539.05M539.25,296.54V300.84M538.45,299.04H539.25M539.25,297.03H540.05M540.25,295.66V299.14M539.45,296.31H540.25M540.25,297.59H541.05M541.25,294.11V297.48M540.45,294.60H541.25M541.25,297.06H542.05M542.25,293.25V298.03M541.45,297.79H542.25M542.25,293.31H543.05M543.25,292.29V294.73M542.45,294.42H543.25M543.25,294.24H544.05M544.25,290.85V294.54M543.45,293.36H544.25M544.25,292.30H545.05M545.25,292.63V296.48M544.45,294.14H545.25M545.25,295.99H546.05M546.25,292.79V294.77M545.45,293.22H546.25M546.25,294.56H547.05M547.25,292.28V293.96M546.45,292.88H547.25M547.25,293.06H548.05M548.25,291.66V294.17M547.45,291.68H548.25M548.25,293.12H549.05M549.25,292.59V294.76M548.45,294.73H549.25M549.25,292.69H550.05M550.25,290.80V293.91M549.45,291.65H550.25M550.25,292.35H551.05M551.25,292.17V295.48M550.45,295.34H551.25M551.25,295.46H552.05M552.25,291.60V295.76M551.45,295.23H552.25M552.25,294.82H553.05M553.25,292.69V295.84M552.45,293.57H553.25M553.25,295.19H554.05M554.25,293.17V299.29M553.45,295.03H554.25M554.25,297.84H555.05M555.25,296.32V299.78M554.45,297.53H555.25M555.25,298.23H556.05M556.25,295.73V297.70M555.45,296.37H556.25M556.25,297.68H557.05M557.25,296.45V298.74M556.45,296.99H557.25M557.25,297.25H558.05M558.25,299.09V302.96M557.45,300.85H558.25M558.25,300.82H559.05M559.25,302.80V304.85M558.45,302.93H559.25M559.25,303.42H560.05M560.25,303.00V306.91M559.45,306.67H560.25M560.25,304.33H561.05M561.25,307.09V309.65M560.45,307.55H561.25M561.25,308.58H562.05M562.25,309.79V313.50M561.45,311.38H562.25M562.25,313.01H563.05M563.25,308.38V313.33M562.45,309.75H563.25M563.25,309.66H564.05M564.25,307.84V309.83M563.45,309.25H564.25M564.25,308.28H565.05M565.25,306.77V309.55M564.45,309.17H565.25M565.25,308.57H566.05M566.25,303.67V310.62M565.45,307.85H566.25M566.25,304.22H567.05M567.25,303.35V307.76M566.45,303.96H567.25M567.25,304.18H568.05M568.25,301.81V306.94M567.45,306.54H568.25M568.25,302.90H569.05M569.25,301.77V306.09M568.45,303.52H569.25M569.25,304.70H570.05M570.25,304.81V306.92M569.45,304.90H570.25M570.25,306.13H571.05M571.25,305.55V308.86M570.45,306.40H571.25M571.25,307.09H572.05M572.25,301.92V307.43M571.45,307.36H572.25M572.25,302.23H573.05M573.25,300.05V303.48M572.45,300.37H573.25M573.25,300.59H574.05M574.25,295.62V298.88M573.45,298.28H574.25M574.25,297.00H575.05M575.25,295.84V299.27M574.45,298.09H575.25M575.25,297.90H576.05M576.25,293.74V297.12M575.45,296.14H576.25M576.25,296.32H577.05M577.25,295.07V298.69M576.45,298.61H577.25M577.25,296.71H578.05M578.25,292.33V298.02M577.45,293.08H578.25M578.25,292.39H579.05M579.25,290.46V294.92M578.45,292.08H579.25M579.25,294.88H580.05M580.25,288.15V291.36M579.45,288.24H580.25M580.25,288.58H581.05M581.25,287.07V290.28M580.45,287.65H581.25M581.25,290.09H582.05M582.25,286.86V288.68M581.45,288.21H582.25M582.25,288.54H583.05M583.25,285.89V289.13M582.45,286.67H583.25M583.25,289.07H584.05M584.25,286.18V289.30M583.45,288.68H584.25M584.25,287.62H585.05M585.25,283.84V288.18M584.45,287.02H585.25M585.25,284.12H586.05M586.25,286.86V291.27M585.45,287.13H586.25M586.25,289.35H587.05M587.25,284.55V292.45M586.45,289.50H587.25M587.25,286.32H588.05M588.25,287.79V290.24M587.45,288.36H588.25M588.25,288.29H589.05M589.25,288.24V291.30M588.45,291.28H589.25M589.25,288.90H590.05M590.25,289.53V293.52M589.45,293.00H590.25M590.25,290.59H591.05M591.25,290.13V294.00M590.45,291.41H591.25M591.25,292.01H592.05M592.25,294.11V297.09M591.45,295.89H592.25M592.25,295.46H593.05M593.25,288.93V293.19M592.45,292.69H593.25M593.25,290.47H594.05M594.25,287.64V291.67M593.45,291.12H594.25M594.25,291.65H595.05M595.25,285.99V287.57M594.45,287.53H595.25M595.25,286.01H596.05M596.25,285.42V288.62M595.45,285.74H596.25M596.25,285.96H597.05M597.25,283.91V285.92M596.45,285.76H597.25M597.25,285.35H598.05M598.25,278.87V284.98M597.45,280.30H598.25M598.25,283.71H599.05M599.25,282.00V284.29M598.45,282.53H599.25M599.25,282.98H600.05M600.25,278.75V285.47M599.45,280.88H600.25M600.25,284.66H601.05M601.25,276.01V278.39M600.45,277.03H601.25M601.25,276.44H602.05M602.25,276.34V279.54M601.45,277.94H602.25M602.25,276.70H603.05M603.25,273.85V279.08M602.45,275.68H603.25M603.25,274.97H604.05M604.25,272.69V278.24M603.45,274.21H604.25M604.25,273.67H605.05M605.25,273.85V275.39M604.45,274.64H605.25M605.25,274.48H606.05M606.25,275.16V277.11M605.45,276.50H606.25M606.25,276.43H607.05M607.25,275.21V278.97M606.45,278.90H607.25M607.25,278.50H608.05M608.25,275.00V277.48M607.45,276.04H608.25M608.25,277.41H609.05M609.25,275.17V277.79M608.45,275.55H609.25M609.25,277.79H610.05M610.25,273.14V278.79M609.45,274.58H610.25M610.25,276.59H611.05M611.25,274.40V276.40M610.45,274.63H611.25M611.25,276.08H612.05M612.25,272.67V277.00M611.45,275.67H612.25M612.25,274.07H613.05M613.25,273.22V276.04M612.45,275.96H613.25M613.25,273.23H614.05M614.25,270.14V274.70M613.45,272.84H614.25M614.25,274.67H615.05M615.25,268.67V272.89M614.45,270.27H615.25M615.25,271.68H616.05M616.25,267.88V271.31M615.45,270.20H616.25M616.25,268.98H617.05M617.25,266.70V269.34M616.45,268.31H617.25M617.25,267.40H618.05M618.25,266.59V270.30M617.45,268.53H618.25M618.25,268.36H619.05M619.25,264.39V269.12M618.45,266.89H619.25M619.25,266.87H620.05M620.25,262.36V266.10M619.45,263.00H620.25M620.25,265.43H621.05M621.25,261.97V266.71M620.45,266.20H621.25M621.25,266.08H622.05M622.25,261.54V265.65M621.45,264.90H622.25M622.25,262.04H623.05M623.25,265.05V266.93M622.45,265.72H623.25M623.25,266.56H624.05M624.25,268.63V270.87M623.45,269.52H624.25M624.25,270.86H625.05M625.25,269.84V272.74M624.45,272.15H625.25M625.25,272.04H626.05M626.25,268.77V272.09M625.45,270.50H626.25M626.25,269.56H627.05M627.25,272.22V274.69M626.45,272.26H627.25M627.25,272.71H628.05M628.25,275.16V276.87M627.45,276.39H628.25M628.25,275.63H629.05M629.25,278.26V282.15M628.45,278.62H629.25M629.25,280.73H630.05M630.25,279.21V281.54M629.45,281.06H630.25M630.25,280.65H631.05M631.25,275.66V277.82M630.45,276.45H631.25M631.25,277.20H632.05M632.25,272.39V275.67M631.45,275.05H632.25M632.25,273.55H633.05M633.25,271.21V276.76M632.45,272.28H633.25M633.25,276.60H634.05M634.25,275.54V278.82M633.45,276.62H634.25M634.25,275.77H635.05M635.25,287.64V290.51M634.45,289.07H635.25M635.25,290.23H636.05M636.25,299.44V301.95M635.45,300.60H636.25M636.25,300.60H637.05M637.25,293.04V295.85M636.45,295.54H637.25M637.25,294.28H638.05M638.25,287.92V292.27M637.45,290.83H638.25M638.25,291.14H639.05M639.25,285.49V288.31M638.45,287.05H639.25M639.25,287.66H640.05M640.25,284.10V285.95M639.45,284.24H640.25M640.25,285.61H641.05M641.25,279.90V283.09M640.45,281.70H641.25M641.25,280.08H642.05M642.25,276.78V280.46M641.45,276.98H642.25M642.25,279.32H643.05M643.25,272.53V280.29M642.45,278.87H643.25M643.25,279.29H644.05M644.25,268.39V271.15M643.45,268.41H644.25M644.25,271.12H645.05M645.25,266.35V268.56M644.45,266.91H645.25M645.25,268.25H646.05M646.25,265.09V268.00M645.45,265.24H646.25M646.25,265.97H647.05M647.25,264.21V269.88M646.45,265.67H647.25M647.25,265.36H648.05M648.25,263.71V266.60M647.45,265.05H648.25M648.25,265.12H649.05M649.25,264.87V268.76M648.45,265.65H649.25M649.25,268.44H650.05M650.25,264.38V266.30M649.45,265.40H650.25M650.25,265.17H651.05M651.25,264.00V266.25M650.45,265.79H651.25M651.25,264.66H652.05M652.25,263.65V268.07M651.45,265.66H652.25M652.25,267.79H653.05M653.25,262.38V266.38M652.45,264.11H653.25M653.25,264.94H654.05M654.25,260.50V264.37M653.45,262.80H654.25M654.25,261.19H655.05M655.25,265.41V269.73M654.45,267.56H655.25M655.25,268.32H656.05M656.25,267.84V269.94M655.45,269.60H656.25M656.25,268.14H657.05M657.25,271.36V273.16M656.45,271.53H657.25M657.25,272.77H658.05M658.25,273.08V276.41M657.45,273.94H658.25M658.25,276.10H659.05M659.25,275.83V277.50M658.45,276.99H659.25M659.25,275.90H660.05M660.25,278.26V280.39M659.45,279.50H660.25M660.25,278.94H661.05M661.25,277.26V281.77M660.45,278.72H661.25M661.25,281.06H662.05M662.25,270.97V279.00M661.45,274.11H662.25M662.25,271.23H663.05M663.25,267.26V270.19M662.45,268.86H663.25M663.25,267.53H664.05M664.25,264.14V267.78M663.45,266.61H664.25M664.25,264.56H665.05M665.25,264.25V268.89M664.45,268.87H665.25M665.25,268.60H666.05M666.25,261.21V263.53M665.45,262.95H666.25M666.25,262.36H667.05M667.25,260.55V262.86M666.45,262.55H667.25M667.25,261.93H668.05M668.25,257.54V259.24M667.45,258.00H668.25M668.25,259.06H669.05M669.25,257.14V261.95M668.45,257.29H669.25M669.25,260.02H670.05M670.25,258.51V263.88M669.45,262.04H670.25M670.25,258.78H671.05M671.25,257.15V259.61M670.45,258.97H671.25M671.25,257.59H672.05M672.25,257.62V259.53M671.45,258.69H672.25M672.25,257.81H673.05M673.25,254.57V258.92M672.45,256.58H673.25M673.25,254.72H674.05M674.25,257.21V259.98M673.45,257.58H674.25M674.25,258.81H675.05M675.25,255.85V259.12M674.45,256.39H675.25M675.25,256.41H676.05M676.25,257.96V262.06M675.45,261.55H676.25M676.25,259.93H677.05M677.25,258.02V262.07M676.45,258.49H677.25M677.25,260.03H678.05M678.25,259.99V262.30M677.45,260.37H678.25M678.25,261.23H679.05M679.25,256.52V258.73M678.45,257.41H679.25M679.25,256.97H680.05M680.25,254.25V258.44M679.45,256.35H680.25M680.25,257.98H681.05M681.25,248.85V254.49M680.45,253.31H681.25M681.25,252.07H682.05M682.25,251.23V254.61M681.45,251.75H682.25M682.25,252.12H683.05M683.25,248.23V251.11M682.45,249.07H683.25M683.25,250.79H684.05M684.25,246.93V249.69M683.45,248.57H684.25M684.25,249.09H685.05M685.25,248.52V250.34M684.45,249.61H685.25M685.25,250.31H686.05M686.25,245.20V249.17M685.45,248.43H686.25M686.25,246.56H687.05M687.25,247.86V253.05M686.45,247.92H687.25M687.25,252.74H688.05M688.25,247.94V250.08M687.45,248.47H688.25M688.25,249.51H689.05M689.25,250.07V252.17M688.45,250.36H689.25M689.25,250.48H690.05M690.25,248.09V254.45M689.45,254.43H690.25M690.25,253.12H691.05M691.25,248.92V252.96M690.45,252.59H691.25M691.25,251.96H692.05M692.25,251.14V253.98M691.45,253.54H692.25M692.25,253.38H693.05M693.25,247.47V250.91M692.45,248.03H693.25M693.25,250.79H694.05M694.25,249.86V253.07M693.45,252.52H694.25M694.25,252.87H695.05M695.25,249.96V255.15M694.45,254.12H695.25M695.25,253.02H696.05M696.25,248.79V254.12M695.45,253.43H696.25M696.25,250.38H697.05M697.25,253.59V259.40M696.45,254.26H697.25M697.25,259.22H698.05M698.25,256.70V260.63M697.45,257.61H698.25M698.25,257.48H699.05M699.25,257.87V260.40M698.45,260.17H699.25M699.25,259.61H700.05M700.25,252.00V255.84M699.45,255.04H700.25M700.25,254.62H701.05M701.25,244.10V248.22M700.45,244.46H701.25M701.25,246.79H702.05M702.25,240.93V243.91M701.45,243.42H702.25M702.25,243.29H703.05M703.25,235.46V237.68M702.45,235.70H703.25M703.25,237.26H704.05M704.25,236.22V239.47M703.45,237.31H704.25M704.25,236.92H705.05M705.25,235.69V240.48M704.45,237.09H705.25M705.25,236.11H706.05M706.25,237.76V241.30M705.45,240.10H706.25M706.25,240.62H707.05M707.25,239.69V242.51M706.45,242.01H707.25M707.25,240.21H708.05M708.25,240.66V246.40M707.45,241.95H708.25M708.25,245.76H709.05M709.25,243.64V248.34M708.45,245.99H709.25M709.25,248.13H710.05M710.25,240.27V247.22M709.45,246.04H710.25M710.25,241.40H711.05M711.25,244.12V245.75M710.45,245.66H711.25M711.25,244.86H712.05M712.25,242.51V244.78M711.45,242.74H712.25M712.25,243.76H713.05M713.25,240.13V242.96M712.45,242.76H713.25M713.25,242.66H714.05M714.25,238.39V241.06M713.45,239.57H714.25M714.25,240.94H715.05M715.25,235.14V239.04M714.45,236.61H715.25M715.25,237.18H716.05M716.25,233.41V238.49M715.45,235.25H716.25M716.25,238.37H717.05M717.25,231.49V236.43M716.45,234.24H717.25M717.25,233.70H718.05M718.25,231.79V237.42M717.45,236.01H718.25M718.25,231.99H719.05M719.25,232.17V237.41M718.45,236.84H719.25M719.25,232.93H720.05M720.25,231.00V233.48M719.45,231.97H720.25M720.25,232.86H721.05M721.25,231.27V234.79M720.45,232.30H721.25M721.25,233.19H722.05M722.25,226.61V233.85M721.45,232.44H722.25M722.25,231.51H723.05M723.25,227.53V234.37M722.45,232.26H723.25M723.25,229.43H724.05M724.25,230.49V235.02M723.45,234.08H724.25M724.25,232.06H725.05M725.25,229.99V234.78M724.45,230.77H725.25M725.25,233.53H726.05M726.25,230.50V232.41M725.45,231.06H726.25M726.25,231.23H727.05M727.25,229.84V235.41M726.45,231.56H727.25M727.25,235.10H728.05M728.25,231.30V233.86M727.45,231.58H728.25M728.25,231.96H729.05M729.25,232.69V238.65M728.45,234.28H729.25M729.25,233.91H730.05M730.25,237.89V242.19M729.45,240.63H730.25M730.25,241.24H731.05M731.25,243.54V246.83M730.45,245.09H731.25M731.25,245.38H732.05M732.25,246.94V250.41M731.45,248.20H732.25M732.25,250.12H733.05M733.25,243.47V246.47M732.45,244.25H733.25M733.25,245.78H734.05M734.25,236.50V241.01M733.45,238.10H734.25M734.25,240.74H735.05M735.25,236.36V238.18M734.45,237.35H735.25M735.25,237.73H736.05" stroke="#262626" stroke-width="0.95" fill="none"/>
<polyline points="11.25,342.25 13.75,346.00 16.25,343.50 18.75,341.00 20.00,347.25 21.25,353.50 22.50,349.75 23.75,354.75 25.00,356.00 26.25,359.75 27.50,368.50 28.75,359.75 30.00,356.00 31.25,354.75 32.50,356.00 33.75,359.75 35.00,364.75 36.25,362.25 37.50,367.25 38.75,363.50 40.00,364.75 41.25,358.50 42.50,353.50 43.75,349.75 45.00,347.25 46.25,344.75 47.50,346.00 48.75,341.00 50.00,339.75 51.25,337.25 52.50,341.00 53.75,339.75 55.00,342.25 56.25,346.00 57.50,347.25 58.75,348.50 60.00,352.25 61.25,351.00 62.50,353.50 63.75,353.50 65.00,348.50 66.25,352.25 67.50,359.75 68.75,363.50 70.00,366.00 71.25,362.25 72.50,368.50 73.75,372.25 75.00,364.75 76.25,371.00 77.50,376.00 78.75,379.75 80.00,383.50 81.25,386.00 82.50,381.00 83.75,378.50 85.00,384.75 86.25,387.25 87.50,389.75 88.75,386.00 90.00,382.25 91.25,376.00 92.50,372.25 93.75,369.75 95.00,371.00 96.25,369.75 97.50,372.25 98.75,372.25 100.00,376.00 101.25,388.00 102.25,394.00 103.50,399.00 105.00,403.00 106.25,405.00 107.50,399.00 108.75,396.00 110.00,391.00 111.25,389.75 112.50,393.50 113.75,397.25 115.00,396.00 116.25,393.50 117.50,389.75 118.75,391.00 120.00,393.50 121.25,396.00 122.50,398.50 123.75,393.50 125.00,388.50 126.25,384.75 127.50,382.25 128.75,383.50 130.00,381.00 131.25,378.50 132.50,376.00 133.75,374.75 135.00,372.25 136.25,373.50 137.50,371.00 138.75,369.75 140.00,372.25 141.25,368.50 142.50,364.75 143.75,362.25 145.00,361.00 146.25,359.75 147.50,361.00 148.75,363.50 150.00,366.00 151.25,368.50 152.50,369.75 153.75,372.25 155.00,377.25 156.25,381.00 157.50,382.25 158.75,386.00 160.00,387.25 161.25,384.75 162.50,379.75 163.75,376.00 165.00,382.25 166.25,386.00 167.50,388.50 168.75,391.00 170.00,392.25 171.25,396.00 172.50,402.25 173.75,403.50 175.00,406.00 176.25,407.25 177.50,409.75 178.75,404.75 180.00,399.75 181.25,398.50 182.50,403.50 183.75,407.25 185.00,409.75 186.25,413.50 187.50,408.50 188.75,406.00 190.00,402.25 191.25,403.50 192.50,399.75 193.75,396.00 195.00,392.25 196.25,391.00 197.50,389.75 198.75,393.50 200.00,391.00 201.50,399.75 202.75,398.50 204.00,396.00 205.25,391.00 206.50,383.50 207.75,382.25 209.00,383.50 210.25,384.75 211.50,382.25 212.75,383.50 214.00,381.00 215.25,379.75 216.50,382.25 217.75,381.00 219.00,377.25 220.25,376.00 221.50,378.50 222.75,383.50 224.00,384.75 225.25,384.75 226.50,383.50 227.75,381.00 229.00,376.00 230.25,388.50 231.50,393.50 232.75,394.75 234.00,396.00 235.25,397.25 236.50,396.00 237.75,394.75 239.00,396.00 240.25,394.75 241.50,393.50 242.75,396.00 244.00,392.25 245.25,388.50 246.50,387.25 247.75,384.75 249.00,382.25 250.25,382.25 251.50,383.50 252.75,387.25 254.00,382.25 255.25,381.00 256.50,379.75 257.75,378.50 259.00,378.50 260.25,376.00 261.50,371.00 262.75,369.75 264.00,371.00 265.25,373.50 266.50,374.75 267.75,372.25 269.00,371.00 270.25,372.25 271.50,374.75 272.75,377.25 274.00,379.75 275.25,382.25 276.50,382.25 277.75,383.50 279.00,384.75 280.25,383.50 281.50,381.00 282.75,377.25 284.00,379.75 285.25,384.75 286.50,388.50 287.75,391.00 289.00,389.75 290.25,388.50 291.50,388.50 292.75,386.00 294.00,383.50 295.25,384.75 296.50,386.00 297.75,383.50 299.00,381.00 300.25,378.50 301.50,376.00 302.75,374.75 304.00,374.75 305.25,374.75 306.50,373.50 307.75,373.50 309.00,372.25 310.25,372.25 311.50,373.50 312.75,372.25 314.00,372.25 315.25,373.50 316.50,374.75 317.75,376.00 319.00,377.25 320.25,371.00 321.50,369.75 322.75,373.50 324.00,376.00 325.25,373.50 326.50,373.50 327.75,372.25 329.00,373.50 330.25,372.25 331.50,372.25 332.75,371.00 334.00,368.50 335.25,367.25 336.50,368.50 337.75,372.25 339.00,373.50 340.25,368.50 341.50,366.00 342.75,368.50 344.00,364.75 345.25,362.25 346.50,361.00 347.75,359.75 349.00,359.75 350.25,358.50 351.50,356.00 352.75,352.25 354.00,351.00 355.25,353.50 356.50,354.75 357.75,356.00 359.00,357.25 360.25,356.00 361.50,353.50 362.75,351.00 364.00,351.00 365.25,349.75 366.50,352.25 367.75,351.00 369.00,348.50 370.25,346.00 371.50,344.75 372.75,343.50 374.00,342.25 375.25,341.00 376.50,342.25 377.75,341.00 379.00,342.25 380.25,341.00 381.50,339.75 383.00,341.25 384.00,342.25 385.50,345.00 388.00,346.25 390.50,348.75 393.00,350.00 395.50,353.75 396.75,356.25 398.00,353.75 400.50,352.50 401.75,353.75 403.00,350.00 404.25,347.50 405.50,343.75 406.75,345.00 408.00,346.25 410.50,347.50 413.00,346.25 414.25,347.50 415.50,348.75 418.00,351.25 419.25,353.75 420.50,357.50 423.00,360.00 425.50,362.50 428.00,365.00 429.25,365.00 430.50,361.25 431.75,357.50 433.00,356.25 435.50,355.50 436.75,356.25 438.00,357.50 439.25,361.25 440.50,363.75 441.75,365.00 443.00,367.50 444.25,370.00 445.50,372.50 446.75,370.00 448.00,365.00 449.25,361.25 450.50,357.50 451.75,356.25 453.00,355.00 455.50,353.75 456.75,352.50 458.00,347.50 459.25,346.25 460.50,345.00 463.00,342.50 465.50,342.50 468.00,341.25 470.50,340.00 473.00,340.00 474.25,341.25 475.50,337.50 476.75,333.75 478.00,331.25 479.25,330.00 480.50,330.00 481.75,328.75 483.00,331.25 484.25,328.75 485.50,327.50 486.75,326.25 488.00,327.50 489.25,330.00 490.50,331.25 491.75,332.50 493.00,331.25 494.25,328.75 495.50,327.50 496.75,326.25 498.00,328.75 499.25,326.25 500.50,322.50 501.75,320.00 503.00,320.00 504.25,318.75 505.50,317.50 506.75,316.25 508.00,317.50 509.25,320.00 510.50,315.00 511.75,313.75 513.00,312.50 514.25,313.75 515.50,310.00 516.75,308.75 518.00,311.25 519.25,308.75 520.50,312.50 521.75,313.75 523.00,308.75 524.25,305.00 525.50,303.75 526.75,303.75 528.00,305.00 529.25,302.50 530.50,303.75 531.75,301.25 533.00,300.00 534.25,301.25 535.50,300.00 536.75,298.75 538.00,301.25 539.25,298.75 540.50,297.50 541.75,296.25 543.00,293.75 544.25,293.00 545.50,293.75 546.75,293.00 548.00,292.50 549.25,293.75 550.50,293.75 551.75,295.00 553.00,293.75 554.25,296.25 555.50,297.50 556.75,296.25 558.00,300.00 559.25,303.75 560.50,306.25 561.75,308.75 563.00,311.25 564.25,310.00 565.50,307.50 566.75,306.25 568.00,305.00 569.50,304.50 570.75,307.00 572.00,308.25 573.25,302.00 574.50,298.25 575.75,297.00 577.00,295.75 578.25,294.50 579.50,292.00 580.75,290.75 582.00,288.25 583.25,287.50 584.50,288.25 585.75,287.50 587.00,288.25 588.25,289.50 589.50,289.50 590.75,290.75 592.00,294.50 593.25,292.00 594.50,289.50 595.75,285.75 597.00,284.50 598.25,283.25 599.50,282.00 600.75,279.50 602.00,277.00 603.25,275.75 604.50,274.50 605.75,275.75 607.00,277.00 608.25,275.75 609.50,277.00 610.75,275.75 612.00,275.75 613.25,274.50 614.50,272.00 615.75,270.75 617.00,268.25 618.25,267.00 619.50,265.75 620.75,264.50 622.00,263.25 623.25,267.00 624.50,270.75 625.75,270.75 627.00,273.25 628.25,275.75 629.50,280.75 630.75,278.25 632.00,274.50 633.25,273.25 634.50,277.00 635.25,288.25 636.25,299.50 637.00,294.50 638.25,289.50 639.50,285.75 640.75,283.25 642.00,279.50 643.25,274.50 644.50,269.50 645.75,267.00 647.00,265.75 648.25,266.50 649.50,265.75 650.75,264.50 652.00,265.75 653.25,265.75 654.50,264.50 655.75,267.00 657.00,270.75 658.25,273.25 659.50,277.00 660.75,279.50 662.00,275.75 663.25,269.50 664.50,265.75 665.75,263.25 667.00,260.75 668.25,258.25 669.50,257.00 670.75,259.50 672.00,258.25 673.25,257.00 674.50,258.25 675.75,257.00 677.00,259.50 678.25,260.75 679.50,257.00 680.75,255.75 682.00,252.00 683.25,250.75 684.50,249.50 685.75,248.25 687.00,248.25 688.25,249.50 689.50,250.75 690.75,249.50 692.00,252.00 693.25,250.75 694.50,252.00 695.75,250.75 697.00,253.25 698.25,257.00 699.50,259.50 700.75,248.25 702.00,242.00 703.25,238.25 704.50,238.25 705.75,239.50 707.00,242.00 708.25,245.75 709.50,247.00 710.75,245.75 712.00,243.25 713.25,240.75 714.50,238.25 715.75,237.00 717.00,235.75 718.25,234.50 719.50,233.25 720.75,232.00 722.00,232.00 723.25,232.50 724.50,233.25 725.75,232.00 727.00,233.25 728.25,233.25 729.50,234.50 730.75,240.75 731.50,247.00 732.50,249.50 733.25,244.50 734.50,239.50 735.75,237.00" fill="none" stroke="#262626" stroke-width="0.45" stroke-linejoin="round"/>
<text x="21.8" y="26" font-family="'Liberation Sans', 'DejaVu Sans', sans-serif" font-size="6.8" fill="#333" letter-spacing="0.3">$SPXA50R</text>
<text x="13" y="33.5" font-family="'Liberation Sans', 'DejaVu Sans', sans-serif" font-size="6.4" fill="#9a9a9a">&#8212;EMA(1) 31.80</text>
<text x="13" y="40" font-family="'Liberation Sans', 'DejaVu Sans', sans-serif" font-size="6.4" font-weight="bold" fill="#333">&#8226;*EMA(1) 31.80</text>
<path d="M14.3,227.8V233.6M13,229.2H14.3M14.3,232.2H15.6M17.6,228.6V234.2M16.3,230H17.6M17.6,233H18.9" stroke="#2a2a2a" stroke-width="1" fill="none"/>
<text x="19.6" y="233.4" font-family="'Liberation Sans', 'DejaVu Sans', sans-serif" font-size="7" fill="#2a2a2a" letter-spacing="0.6">_SPY 601.30 (24 Dec)</text>
<rect x="81.3" y="21.4" width="6.70" height="398.40" fill="#ee00ff" fill-opacity="0.17"/>
<rect x="101.4" y="22" width="21.50" height="395.60" fill="#ee00ff" fill-opacity="0.17"/>
<rect x="172.1" y="23.5" width="18.60" height="397.00" fill="#ee00ff" fill-opacity="0.17"/>
<rect x="288.3" y="20" width="8.20" height="399.00" fill="#ee00ff" fill-opacity="0.17"/>
<rect x="422.3" y="22.5" width="8.20" height="398.50" fill="#ee00ff" fill-opacity="0.17"/>
<rect x="441.0" y="22.5" width="5.80" height="398.50" fill="#ee00ff" fill-opacity="0.17"/>
<rect x="729.8" y="19" width="3.60" height="400.00" fill="#ee00ff" fill-opacity="0.17"/>
<line x1="85" y1="117" x2="85" y2="138.5" stroke="#e020e0" stroke-width="1.5" stroke-dasharray="1.5,1.6"/><path d="M81,138L89,138L85,145Z" fill="#e020e0"/>
<line x1="110" y1="133" x2="110" y2="155.5" stroke="#e020e0" stroke-width="1.5" stroke-dasharray="1.5,1.6"/><path d="M106,155L114,155L110,162Z" fill="#e020e0"/>
<line x1="180.75" y1="137" x2="180.75" y2="158.5" stroke="#e020e0" stroke-width="1.5" stroke-dasharray="1.5,1.6"/><path d="M176.75,158L184.75,158L180.75,165Z" fill="#e020e0"/>
<line x1="292.25" y1="130" x2="292.25" y2="151.0" stroke="#e020e0" stroke-width="1.5" stroke-dasharray="1.5,1.6"/><path d="M288.25,150.5L296.25,150.5L292.25,157.5Z" fill="#e020e0"/>
<line x1="436.75" y1="108" x2="436.75" y2="130.5" stroke="#e020e0" stroke-width="1.5" stroke-dasharray="1.5,1.6"/><path d="M432.75,130L440.75,130L436.75,137Z" fill="#e020e0"/>
<path d="M94.4,55.6L85.6,110.5L97.6,55.6Z" fill="#fff" stroke="#a0a0a0" stroke-width="0.9"/>
<path d="M97.4,55.6L111.5,125L100.8,55.6Z" fill="#fff" stroke="#a0a0a0" stroke-width="0.9"/>
<rect x="65.5" y="27.5" width="64.4" height="28.4" fill="#fff" stroke="#a8a8a8" stroke-width="0.9"/>
<rect x="94.9" y="55" width="5.4" height="1.2" fill="#fff"/>
<text x="67.6" y="39.1" font-family="'Liberation Sans', 'DejaVu Sans', sans-serif" font-size="9.6" font-weight="bold" letter-spacing="0.25" fill="#c838cf">bounce and</text>
<text x="67.6" y="50.5" font-family="'Liberation Sans', 'DejaVu Sans', sans-serif" font-size="9.6" font-weight="bold" letter-spacing="0.25" fill="#c838cf">second dip</text>
<path d="M705.4,144.2L728,147.3L705.4,148Z" fill="#fff" stroke="#a8a8a8" stroke-width="0.8"/>
<rect x="659.3" y="132.2" width="46.1" height="27.5" fill="#fff" stroke="#a8a8a8" stroke-width="0.9"/>
<rect x="704.8" y="144.8" width="1.2" height="2.6" fill="#fff"/>
<text x="661.6" y="142.8" font-family="'Liberation Sans', 'DejaVu Sans', sans-serif" font-size="9.6" font-weight="bold" letter-spacing="0.25" fill="#c838cf">breadth</text>
<text x="661.6" y="154.5" font-family="'Liberation Sans', 'DejaVu Sans', sans-serif" font-size="9.6" font-weight="bold" letter-spacing="0.25" fill="#c838cf">plunge</text>
<text x="504.4" y="188.2" font-family="'Liberation Sans', 'DejaVu Sans', sans-serif" font-size="9.6" font-weight="bold" letter-spacing="0.25" fill="#c838cf">&lt;20% = Oversold</text>
<text x="97.7" y="248.1" font-family="'Liberation Sans', 'DejaVu Sans', sans-serif" font-size="9.6" font-weight="bold" letter-spacing="0.25" fill="#c838cf">4 weeks</text>
<text x="166.5" y="248.1" font-family="'Liberation Sans', 'DejaVu Sans', sans-serif" font-size="9.6" font-weight="bold" letter-spacing="0.25" fill="#c838cf">4 weeks</text>
<text x="412.5" y="246.3" font-family="'Liberation Sans', 'DejaVu Sans', sans-serif" font-size="9.6" font-weight="bold" letter-spacing="0.25" fill="#c838cf">5 weeks</text>
<text x="412.5" y="257.8" font-family="'Liberation Sans', 'DejaVu Sans', sans-serif" font-size="9.6" font-weight="bold" letter-spacing="0.25" fill="#c838cf">(double dip)</text>
</g></svg>
</body></html>
